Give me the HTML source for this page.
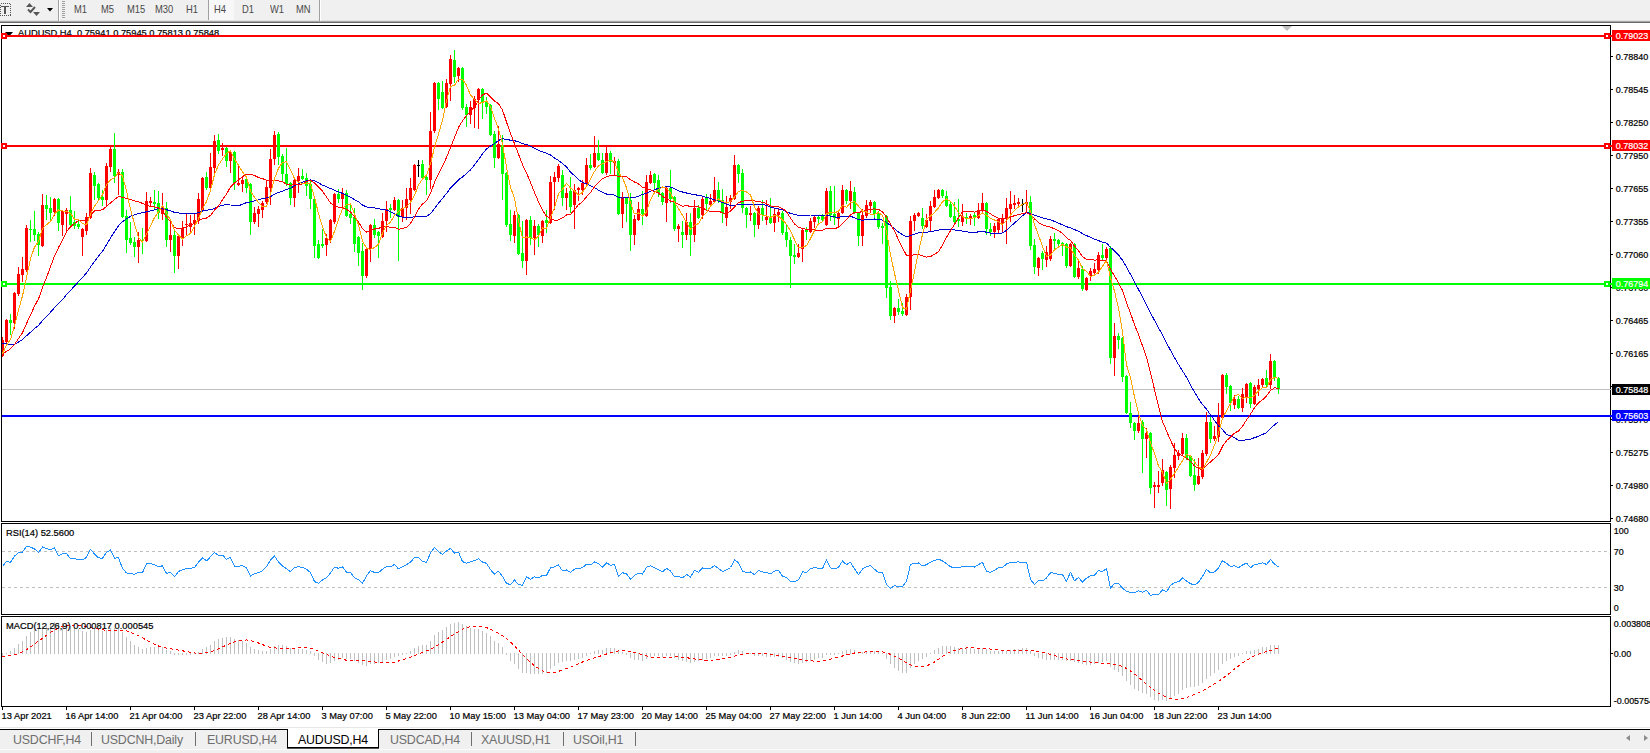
<!DOCTYPE html>
<html><head><meta charset="utf-8"><title>AUDUSD,H4</title>
<style>
html,body{margin:0;padding:0;background:#fff;}
body{width:1650px;height:753px;position:relative;overflow:hidden;font-family:"Liberation Sans",Arial,sans-serif;}
#tb{position:absolute;left:0;top:0;width:1650px;height:21px;background:#f0f0f0;}
#tbl1{position:absolute;left:0;top:20px;width:1650px;height:1px;background:#e2e2e2;}
#tbl2{position:absolute;left:0;top:21px;width:1650px;height:1px;background:#a6a6a6;}
#tbl3{position:absolute;left:0;top:22px;width:1650px;height:1px;background:#6a6a6a;}
.tf{position:absolute;top:3.5px;font-size:10.2px;color:#4a4a4a;line-height:12px;white-space:nowrap;display:inline-block;transform:scaleX(0.92);transform-origin:left center;}
#tabs{position:absolute;left:0;top:730px;width:1650px;height:23px;background:#f0f0f0;}
#tabl0{position:absolute;left:0;top:727px;width:1650px;height:1px;background:#e6e6e6;}
#tabl1{position:absolute;left:0;top:729px;width:1650px;height:1px;background:#000;}
#tabl2{position:absolute;left:0;top:749px;width:1650px;height:1px;background:#fafafa;}
.tab{position:absolute;top:733px;font-size:12.4px;line-height:14px;color:#6e6e6e;white-space:nowrap;letter-spacing:-0.17px;}
.sep{position:absolute;top:732px;width:1px;height:14px;background:#6e6e6e;}
#act{position:absolute;left:287px;top:729px;width:90px;height:18px;background:#fff;border:1px solid #000;border-top:none;box-shadow:0 1px 0 #555;}
</style></head><body>
<svg width="1650" height="753" viewBox="0 0 1650 753" style="position:absolute;left:0;top:0">
<text transform="translate(18,36) scale(0.96,1)" fill="#000" stroke="#000" stroke-width="0.22" font-family="Liberation Sans, Arial, sans-serif" font-size="9.7" >AUDUSD,H4&#160; 0.75941 0.75945 0.75813 0.75848</text>
<polygon points="5,32 13,32 9,36.5" fill="#000"/>
<g shape-rendering="crispEdges">
<rect x="1" y="25" width="1610" height="1" fill="#000"/><rect x="1" y="521" width="1610" height="1" fill="#000"/><rect x="1" y="25" width="1" height="497" fill="#000"/><rect x="1610" y="25" width="1" height="497" fill="#000"/>
<rect x="1" y="523" width="1610" height="1" fill="#000"/><rect x="1" y="614" width="1610" height="1" fill="#000"/><rect x="1" y="523" width="1" height="92" fill="#000"/><rect x="1610" y="523" width="1" height="92" fill="#000"/>
<rect x="1" y="616" width="1610" height="1" fill="#000"/><rect x="1" y="706" width="1610" height="1" fill="#000"/><rect x="1" y="616" width="1" height="91" fill="#000"/><rect x="1610" y="616" width="1" height="91" fill="#000"/>
<rect x="2" y="389" width="1610" height="1" fill="#c0c0c0"/>
<rect x="2" y="35" width="1610" height="2" fill="#ff0000"/>
<rect x="1" y="33" width="6" height="6" fill="#ff0000"/><rect x="3" y="35" width="2" height="2" fill="#fff"/>
<rect x="1604" y="33" width="6" height="6" fill="#ff0000"/><rect x="1606" y="35" width="2" height="2" fill="#fff"/>
<rect x="2" y="145" width="1610" height="2" fill="#ff0000"/>
<rect x="1" y="143" width="6" height="6" fill="#ff0000"/><rect x="3" y="145" width="2" height="2" fill="#fff"/>
<rect x="1604" y="143" width="6" height="6" fill="#ff0000"/><rect x="1606" y="145" width="2" height="2" fill="#fff"/>
<rect x="2" y="283" width="1610" height="2" fill="#00ff00"/>
<rect x="1" y="281" width="6" height="6" fill="#00ff00"/><rect x="3" y="283" width="2" height="2" fill="#fff"/>
<rect x="1604" y="281" width="6" height="6" fill="#00ff00"/><rect x="1606" y="283" width="2" height="2" fill="#fff"/>
<rect x="2" y="415" width="1610" height="2" fill="#0000ff"/>
<rect x="2" y="653" width="1" height="3" fill="#c0c0c0"/>
<rect x="6" y="653" width="1" height="1" fill="#c0c0c0"/>
<rect x="10" y="651" width="1" height="3" fill="#c0c0c0"/>
<rect x="14" y="648" width="1" height="6" fill="#c0c0c0"/>
<rect x="18" y="644" width="1" height="10" fill="#c0c0c0"/>
<rect x="22" y="641" width="1" height="13" fill="#c0c0c0"/>
<rect x="26" y="636" width="1" height="18" fill="#c0c0c0"/>
<rect x="30" y="632" width="1" height="22" fill="#c0c0c0"/>
<rect x="34" y="630" width="1" height="24" fill="#c0c0c0"/>
<rect x="38" y="629" width="1" height="25" fill="#c0c0c0"/>
<rect x="42" y="626" width="1" height="28" fill="#c0c0c0"/>
<rect x="46" y="624" width="1" height="30" fill="#c0c0c0"/>
<rect x="50" y="624" width="1" height="30" fill="#c0c0c0"/>
<rect x="54" y="622" width="1" height="32" fill="#c0c0c0"/>
<rect x="58" y="623" width="1" height="31" fill="#c0c0c0"/>
<rect x="62" y="623" width="1" height="31" fill="#c0c0c0"/>
<rect x="66" y="624" width="1" height="30" fill="#c0c0c0"/>
<rect x="70" y="626" width="1" height="28" fill="#c0c0c0"/>
<rect x="74" y="627" width="1" height="27" fill="#c0c0c0"/>
<rect x="78" y="629" width="1" height="25" fill="#c0c0c0"/>
<rect x="82" y="631" width="1" height="23" fill="#c0c0c0"/>
<rect x="86" y="632" width="1" height="22" fill="#c0c0c0"/>
<rect x="90" y="630" width="1" height="24" fill="#c0c0c0"/>
<rect x="94" y="629" width="1" height="25" fill="#c0c0c0"/>
<rect x="98" y="630" width="1" height="24" fill="#c0c0c0"/>
<rect x="102" y="631" width="1" height="23" fill="#c0c0c0"/>
<rect x="106" y="630" width="1" height="24" fill="#c0c0c0"/>
<rect x="110" y="628" width="1" height="26" fill="#c0c0c0"/>
<rect x="114" y="628" width="1" height="26" fill="#c0c0c0"/>
<rect x="118" y="629" width="1" height="25" fill="#c0c0c0"/>
<rect x="122" y="632" width="1" height="22" fill="#c0c0c0"/>
<rect x="126" y="637" width="1" height="17" fill="#c0c0c0"/>
<rect x="130" y="641" width="1" height="13" fill="#c0c0c0"/>
<rect x="134" y="645" width="1" height="9" fill="#c0c0c0"/>
<rect x="138" y="647" width="1" height="7" fill="#c0c0c0"/>
<rect x="142" y="649" width="1" height="5" fill="#c0c0c0"/>
<rect x="146" y="648" width="1" height="6" fill="#c0c0c0"/>
<rect x="150" y="647" width="1" height="7" fill="#c0c0c0"/>
<rect x="154" y="647" width="1" height="7" fill="#c0c0c0"/>
<rect x="158" y="647" width="1" height="7" fill="#c0c0c0"/>
<rect x="162" y="647" width="1" height="7" fill="#c0c0c0"/>
<rect x="166" y="650" width="1" height="4" fill="#c0c0c0"/>
<rect x="170" y="651" width="1" height="3" fill="#c0c0c0"/>
<rect x="174" y="653" width="1" height="2" fill="#c0c0c0"/>
<rect x="178" y="653" width="1" height="2" fill="#c0c0c0"/>
<rect x="182" y="653" width="1" height="2" fill="#c0c0c0"/>
<rect x="186" y="653" width="1" height="2" fill="#c0c0c0"/>
<rect x="190" y="653" width="1" height="2" fill="#c0c0c0"/>
<rect x="194" y="653" width="1" height="1" fill="#c0c0c0"/>
<rect x="198" y="652" width="1" height="2" fill="#c0c0c0"/>
<rect x="202" y="649" width="1" height="5" fill="#c0c0c0"/>
<rect x="206" y="647" width="1" height="7" fill="#c0c0c0"/>
<rect x="210" y="645" width="1" height="9" fill="#c0c0c0"/>
<rect x="214" y="641" width="1" height="13" fill="#c0c0c0"/>
<rect x="218" y="639" width="1" height="15" fill="#c0c0c0"/>
<rect x="222" y="638" width="1" height="16" fill="#c0c0c0"/>
<rect x="226" y="637" width="1" height="17" fill="#c0c0c0"/>
<rect x="230" y="637" width="1" height="17" fill="#c0c0c0"/>
<rect x="234" y="639" width="1" height="15" fill="#c0c0c0"/>
<rect x="238" y="640" width="1" height="14" fill="#c0c0c0"/>
<rect x="242" y="641" width="1" height="13" fill="#c0c0c0"/>
<rect x="246" y="643" width="1" height="11" fill="#c0c0c0"/>
<rect x="250" y="647" width="1" height="7" fill="#c0c0c0"/>
<rect x="254" y="649" width="1" height="5" fill="#c0c0c0"/>
<rect x="258" y="650" width="1" height="4" fill="#c0c0c0"/>
<rect x="262" y="651" width="1" height="3" fill="#c0c0c0"/>
<rect x="266" y="651" width="1" height="3" fill="#c0c0c0"/>
<rect x="270" y="649" width="1" height="5" fill="#c0c0c0"/>
<rect x="274" y="646" width="1" height="8" fill="#c0c0c0"/>
<rect x="278" y="645" width="1" height="9" fill="#c0c0c0"/>
<rect x="282" y="645" width="1" height="9" fill="#c0c0c0"/>
<rect x="286" y="646" width="1" height="8" fill="#c0c0c0"/>
<rect x="290" y="648" width="1" height="6" fill="#c0c0c0"/>
<rect x="294" y="648" width="1" height="6" fill="#c0c0c0"/>
<rect x="298" y="649" width="1" height="5" fill="#c0c0c0"/>
<rect x="302" y="649" width="1" height="5" fill="#c0c0c0"/>
<rect x="306" y="650" width="1" height="4" fill="#c0c0c0"/>
<rect x="310" y="651" width="1" height="3" fill="#c0c0c0"/>
<rect x="314" y="653" width="1" height="3" fill="#c0c0c0"/>
<rect x="318" y="653" width="1" height="7" fill="#c0c0c0"/>
<rect x="322" y="653" width="1" height="9" fill="#c0c0c0"/>
<rect x="326" y="653" width="1" height="11" fill="#c0c0c0"/>
<rect x="330" y="653" width="1" height="10" fill="#c0c0c0"/>
<rect x="334" y="653" width="1" height="8" fill="#c0c0c0"/>
<rect x="338" y="653" width="1" height="7" fill="#c0c0c0"/>
<rect x="342" y="653" width="1" height="5" fill="#c0c0c0"/>
<rect x="346" y="653" width="1" height="6" fill="#c0c0c0"/>
<rect x="350" y="653" width="1" height="6" fill="#c0c0c0"/>
<rect x="354" y="653" width="1" height="8" fill="#c0c0c0"/>
<rect x="358" y="653" width="1" height="10" fill="#c0c0c0"/>
<rect x="362" y="653" width="1" height="12" fill="#c0c0c0"/>
<rect x="366" y="653" width="1" height="13" fill="#c0c0c0"/>
<rect x="370" y="653" width="1" height="11" fill="#c0c0c0"/>
<rect x="374" y="653" width="1" height="11" fill="#c0c0c0"/>
<rect x="378" y="653" width="1" height="10" fill="#c0c0c0"/>
<rect x="382" y="653" width="1" height="9" fill="#c0c0c0"/>
<rect x="386" y="653" width="1" height="7" fill="#c0c0c0"/>
<rect x="390" y="653" width="1" height="6" fill="#c0c0c0"/>
<rect x="394" y="653" width="1" height="4" fill="#c0c0c0"/>
<rect x="398" y="653" width="1" height="3" fill="#c0c0c0"/>
<rect x="402" y="653" width="1" height="2" fill="#c0c0c0"/>
<rect x="406" y="653" width="1" height="1" fill="#c0c0c0"/>
<rect x="410" y="651" width="1" height="3" fill="#c0c0c0"/>
<rect x="414" y="648" width="1" height="6" fill="#c0c0c0"/>
<rect x="418" y="646" width="1" height="8" fill="#c0c0c0"/>
<rect x="422" y="645" width="1" height="9" fill="#c0c0c0"/>
<rect x="426" y="645" width="1" height="9" fill="#c0c0c0"/>
<rect x="430" y="641" width="1" height="13" fill="#c0c0c0"/>
<rect x="434" y="635" width="1" height="19" fill="#c0c0c0"/>
<rect x="438" y="632" width="1" height="22" fill="#c0c0c0"/>
<rect x="442" y="630" width="1" height="24" fill="#c0c0c0"/>
<rect x="446" y="627" width="1" height="27" fill="#c0c0c0"/>
<rect x="450" y="624" width="1" height="30" fill="#c0c0c0"/>
<rect x="454" y="623" width="1" height="31" fill="#c0c0c0"/>
<rect x="458" y="622" width="1" height="32" fill="#c0c0c0"/>
<rect x="462" y="624" width="1" height="30" fill="#c0c0c0"/>
<rect x="466" y="626" width="1" height="28" fill="#c0c0c0"/>
<rect x="470" y="628" width="1" height="26" fill="#c0c0c0"/>
<rect x="474" y="629" width="1" height="25" fill="#c0c0c0"/>
<rect x="478" y="629" width="1" height="25" fill="#c0c0c0"/>
<rect x="482" y="631" width="1" height="23" fill="#c0c0c0"/>
<rect x="486" y="633" width="1" height="21" fill="#c0c0c0"/>
<rect x="490" y="636" width="1" height="18" fill="#c0c0c0"/>
<rect x="494" y="641" width="1" height="13" fill="#c0c0c0"/>
<rect x="498" y="643" width="1" height="11" fill="#c0c0c0"/>
<rect x="502" y="647" width="1" height="7" fill="#c0c0c0"/>
<rect x="506" y="653" width="1" height="2" fill="#c0c0c0"/>
<rect x="510" y="653" width="1" height="8" fill="#c0c0c0"/>
<rect x="514" y="653" width="1" height="11" fill="#c0c0c0"/>
<rect x="518" y="653" width="1" height="16" fill="#c0c0c0"/>
<rect x="522" y="653" width="1" height="20" fill="#c0c0c0"/>
<rect x="526" y="653" width="1" height="20" fill="#c0c0c0"/>
<rect x="530" y="653" width="1" height="21" fill="#c0c0c0"/>
<rect x="534" y="653" width="1" height="21" fill="#c0c0c0"/>
<rect x="538" y="653" width="1" height="21" fill="#c0c0c0"/>
<rect x="542" y="653" width="1" height="21" fill="#c0c0c0"/>
<rect x="546" y="653" width="1" height="20" fill="#c0c0c0"/>
<rect x="550" y="653" width="1" height="16" fill="#c0c0c0"/>
<rect x="554" y="653" width="1" height="13" fill="#c0c0c0"/>
<rect x="558" y="653" width="1" height="10" fill="#c0c0c0"/>
<rect x="562" y="653" width="1" height="9" fill="#c0c0c0"/>
<rect x="566" y="653" width="1" height="8" fill="#c0c0c0"/>
<rect x="570" y="653" width="1" height="8" fill="#c0c0c0"/>
<rect x="574" y="653" width="1" height="7" fill="#c0c0c0"/>
<rect x="578" y="653" width="1" height="6" fill="#c0c0c0"/>
<rect x="582" y="653" width="1" height="5" fill="#c0c0c0"/>
<rect x="586" y="653" width="1" height="3" fill="#c0c0c0"/>
<rect x="590" y="653" width="1" height="1" fill="#c0c0c0"/>
<rect x="594" y="651" width="1" height="3" fill="#c0c0c0"/>
<rect x="598" y="650" width="1" height="4" fill="#c0c0c0"/>
<rect x="602" y="650" width="1" height="4" fill="#c0c0c0"/>
<rect x="606" y="648" width="1" height="6" fill="#c0c0c0"/>
<rect x="610" y="648" width="1" height="6" fill="#c0c0c0"/>
<rect x="614" y="648" width="1" height="6" fill="#c0c0c0"/>
<rect x="618" y="651" width="1" height="3" fill="#c0c0c0"/>
<rect x="622" y="652" width="1" height="2" fill="#c0c0c0"/>
<rect x="626" y="653" width="1" height="2" fill="#c0c0c0"/>
<rect x="630" y="653" width="1" height="5" fill="#c0c0c0"/>
<rect x="634" y="653" width="1" height="7" fill="#c0c0c0"/>
<rect x="638" y="653" width="1" height="7" fill="#c0c0c0"/>
<rect x="642" y="653" width="1" height="8" fill="#c0c0c0"/>
<rect x="646" y="653" width="1" height="6" fill="#c0c0c0"/>
<rect x="650" y="653" width="1" height="4" fill="#c0c0c0"/>
<rect x="654" y="653" width="1" height="3" fill="#c0c0c0"/>
<rect x="658" y="653" width="1" height="3" fill="#c0c0c0"/>
<rect x="662" y="653" width="1" height="4" fill="#c0c0c0"/>
<rect x="666" y="653" width="1" height="3" fill="#c0c0c0"/>
<rect x="670" y="653" width="1" height="3" fill="#c0c0c0"/>
<rect x="674" y="653" width="1" height="5" fill="#c0c0c0"/>
<rect x="678" y="653" width="1" height="7" fill="#c0c0c0"/>
<rect x="682" y="653" width="1" height="8" fill="#c0c0c0"/>
<rect x="686" y="653" width="1" height="9" fill="#c0c0c0"/>
<rect x="690" y="653" width="1" height="10" fill="#c0c0c0"/>
<rect x="694" y="653" width="1" height="9" fill="#c0c0c0"/>
<rect x="698" y="653" width="1" height="8" fill="#c0c0c0"/>
<rect x="702" y="653" width="1" height="7" fill="#c0c0c0"/>
<rect x="706" y="653" width="1" height="6" fill="#c0c0c0"/>
<rect x="710" y="653" width="1" height="5" fill="#c0c0c0"/>
<rect x="714" y="653" width="1" height="3" fill="#c0c0c0"/>
<rect x="718" y="653" width="1" height="3" fill="#c0c0c0"/>
<rect x="722" y="653" width="1" height="3" fill="#c0c0c0"/>
<rect x="726" y="653" width="1" height="3" fill="#c0c0c0"/>
<rect x="730" y="653" width="1" height="2" fill="#c0c0c0"/>
<rect x="734" y="652" width="1" height="2" fill="#c0c0c0"/>
<rect x="738" y="650" width="1" height="4" fill="#c0c0c0"/>
<rect x="742" y="651" width="1" height="3" fill="#c0c0c0"/>
<rect x="746" y="653" width="1" height="1" fill="#c0c0c0"/>
<rect x="750" y="653" width="1" height="1" fill="#c0c0c0"/>
<rect x="754" y="653" width="1" height="3" fill="#c0c0c0"/>
<rect x="758" y="653" width="1" height="3" fill="#c0c0c0"/>
<rect x="762" y="653" width="1" height="3" fill="#c0c0c0"/>
<rect x="766" y="653" width="1" height="4" fill="#c0c0c0"/>
<rect x="770" y="653" width="1" height="4" fill="#c0c0c0"/>
<rect x="774" y="653" width="1" height="4" fill="#c0c0c0"/>
<rect x="778" y="653" width="1" height="4" fill="#c0c0c0"/>
<rect x="782" y="653" width="1" height="5" fill="#c0c0c0"/>
<rect x="786" y="653" width="1" height="7" fill="#c0c0c0"/>
<rect x="790" y="653" width="1" height="9" fill="#c0c0c0"/>
<rect x="794" y="653" width="1" height="10" fill="#c0c0c0"/>
<rect x="798" y="653" width="1" height="11" fill="#c0c0c0"/>
<rect x="802" y="653" width="1" height="10" fill="#c0c0c0"/>
<rect x="806" y="653" width="1" height="9" fill="#c0c0c0"/>
<rect x="810" y="653" width="1" height="8" fill="#c0c0c0"/>
<rect x="814" y="653" width="1" height="7" fill="#c0c0c0"/>
<rect x="818" y="653" width="1" height="5" fill="#c0c0c0"/>
<rect x="822" y="653" width="1" height="5" fill="#c0c0c0"/>
<rect x="826" y="653" width="1" height="2" fill="#c0c0c0"/>
<rect x="830" y="653" width="1" height="2" fill="#c0c0c0"/>
<rect x="834" y="653" width="1" height="2" fill="#c0c0c0"/>
<rect x="838" y="653" width="1" height="1" fill="#c0c0c0"/>
<rect x="842" y="651" width="1" height="3" fill="#c0c0c0"/>
<rect x="846" y="650" width="1" height="4" fill="#c0c0c0"/>
<rect x="850" y="649" width="1" height="5" fill="#c0c0c0"/>
<rect x="854" y="650" width="1" height="4" fill="#c0c0c0"/>
<rect x="858" y="652" width="1" height="2" fill="#c0c0c0"/>
<rect x="862" y="652" width="1" height="2" fill="#c0c0c0"/>
<rect x="866" y="651" width="1" height="3" fill="#c0c0c0"/>
<rect x="870" y="651" width="1" height="3" fill="#c0c0c0"/>
<rect x="874" y="651" width="1" height="3" fill="#c0c0c0"/>
<rect x="878" y="652" width="1" height="2" fill="#c0c0c0"/>
<rect x="882" y="653" width="1" height="1" fill="#c0c0c0"/>
<rect x="886" y="653" width="1" height="6" fill="#c0c0c0"/>
<rect x="890" y="653" width="1" height="11" fill="#c0c0c0"/>
<rect x="894" y="653" width="1" height="15" fill="#c0c0c0"/>
<rect x="898" y="653" width="1" height="18" fill="#c0c0c0"/>
<rect x="902" y="653" width="1" height="20" fill="#c0c0c0"/>
<rect x="906" y="653" width="1" height="20" fill="#c0c0c0"/>
<rect x="910" y="653" width="1" height="15" fill="#c0c0c0"/>
<rect x="914" y="653" width="1" height="11" fill="#c0c0c0"/>
<rect x="918" y="653" width="1" height="8" fill="#c0c0c0"/>
<rect x="922" y="653" width="1" height="6" fill="#c0c0c0"/>
<rect x="926" y="653" width="1" height="4" fill="#c0c0c0"/>
<rect x="930" y="653" width="1" height="1" fill="#c0c0c0"/>
<rect x="934" y="650" width="1" height="4" fill="#c0c0c0"/>
<rect x="938" y="648" width="1" height="6" fill="#c0c0c0"/>
<rect x="942" y="646" width="1" height="8" fill="#c0c0c0"/>
<rect x="946" y="646" width="1" height="8" fill="#c0c0c0"/>
<rect x="950" y="646" width="1" height="8" fill="#c0c0c0"/>
<rect x="954" y="647" width="1" height="7" fill="#c0c0c0"/>
<rect x="958" y="648" width="1" height="6" fill="#c0c0c0"/>
<rect x="962" y="648" width="1" height="6" fill="#c0c0c0"/>
<rect x="966" y="648" width="1" height="6" fill="#c0c0c0"/>
<rect x="970" y="648" width="1" height="6" fill="#c0c0c0"/>
<rect x="974" y="649" width="1" height="5" fill="#c0c0c0"/>
<rect x="978" y="649" width="1" height="5" fill="#c0c0c0"/>
<rect x="982" y="648" width="1" height="6" fill="#c0c0c0"/>
<rect x="986" y="649" width="1" height="5" fill="#c0c0c0"/>
<rect x="990" y="651" width="1" height="3" fill="#c0c0c0"/>
<rect x="994" y="651" width="1" height="3" fill="#c0c0c0"/>
<rect x="998" y="651" width="1" height="3" fill="#c0c0c0"/>
<rect x="1002" y="651" width="1" height="3" fill="#c0c0c0"/>
<rect x="1006" y="651" width="1" height="3" fill="#c0c0c0"/>
<rect x="1010" y="650" width="1" height="4" fill="#c0c0c0"/>
<rect x="1014" y="649" width="1" height="5" fill="#c0c0c0"/>
<rect x="1018" y="649" width="1" height="5" fill="#c0c0c0"/>
<rect x="1022" y="648" width="1" height="6" fill="#c0c0c0"/>
<rect x="1026" y="648" width="1" height="6" fill="#c0c0c0"/>
<rect x="1030" y="651" width="1" height="3" fill="#c0c0c0"/>
<rect x="1034" y="653" width="1" height="3" fill="#c0c0c0"/>
<rect x="1038" y="653" width="1" height="5" fill="#c0c0c0"/>
<rect x="1042" y="653" width="1" height="6" fill="#c0c0c0"/>
<rect x="1046" y="653" width="1" height="7" fill="#c0c0c0"/>
<rect x="1050" y="653" width="1" height="7" fill="#c0c0c0"/>
<rect x="1054" y="653" width="1" height="7" fill="#c0c0c0"/>
<rect x="1058" y="653" width="1" height="7" fill="#c0c0c0"/>
<rect x="1062" y="653" width="1" height="7" fill="#c0c0c0"/>
<rect x="1066" y="653" width="1" height="8" fill="#c0c0c0"/>
<rect x="1070" y="653" width="1" height="8" fill="#c0c0c0"/>
<rect x="1074" y="653" width="1" height="9" fill="#c0c0c0"/>
<rect x="1078" y="653" width="1" height="10" fill="#c0c0c0"/>
<rect x="1082" y="653" width="1" height="11" fill="#c0c0c0"/>
<rect x="1086" y="653" width="1" height="12" fill="#c0c0c0"/>
<rect x="1090" y="653" width="1" height="12" fill="#c0c0c0"/>
<rect x="1094" y="653" width="1" height="11" fill="#c0c0c0"/>
<rect x="1098" y="653" width="1" height="10" fill="#c0c0c0"/>
<rect x="1102" y="653" width="1" height="9" fill="#c0c0c0"/>
<rect x="1106" y="653" width="1" height="8" fill="#c0c0c0"/>
<rect x="1110" y="653" width="1" height="14" fill="#c0c0c0"/>
<rect x="1114" y="653" width="1" height="17" fill="#c0c0c0"/>
<rect x="1118" y="653" width="1" height="19" fill="#c0c0c0"/>
<rect x="1122" y="653" width="1" height="23" fill="#c0c0c0"/>
<rect x="1126" y="653" width="1" height="28" fill="#c0c0c0"/>
<rect x="1130" y="653" width="1" height="32" fill="#c0c0c0"/>
<rect x="1134" y="653" width="1" height="36" fill="#c0c0c0"/>
<rect x="1138" y="653" width="1" height="38" fill="#c0c0c0"/>
<rect x="1142" y="653" width="1" height="40" fill="#c0c0c0"/>
<rect x="1146" y="653" width="1" height="41" fill="#c0c0c0"/>
<rect x="1150" y="653" width="1" height="44" fill="#c0c0c0"/>
<rect x="1154" y="653" width="1" height="47" fill="#c0c0c0"/>
<rect x="1158" y="653" width="1" height="48" fill="#c0c0c0"/>
<rect x="1162" y="653" width="1" height="47" fill="#c0c0c0"/>
<rect x="1166" y="653" width="1" height="48" fill="#c0c0c0"/>
<rect x="1170" y="653" width="1" height="46" fill="#c0c0c0"/>
<rect x="1174" y="653" width="1" height="43" fill="#c0c0c0"/>
<rect x="1178" y="653" width="1" height="41" fill="#c0c0c0"/>
<rect x="1182" y="653" width="1" height="37" fill="#c0c0c0"/>
<rect x="1186" y="653" width="1" height="35" fill="#c0c0c0"/>
<rect x="1190" y="653" width="1" height="34" fill="#c0c0c0"/>
<rect x="1194" y="653" width="1" height="34" fill="#c0c0c0"/>
<rect x="1198" y="653" width="1" height="33" fill="#c0c0c0"/>
<rect x="1202" y="653" width="1" height="30" fill="#c0c0c0"/>
<rect x="1206" y="653" width="1" height="26" fill="#c0c0c0"/>
<rect x="1210" y="653" width="1" height="23" fill="#c0c0c0"/>
<rect x="1214" y="653" width="1" height="20" fill="#c0c0c0"/>
<rect x="1218" y="653" width="1" height="17" fill="#c0c0c0"/>
<rect x="1222" y="653" width="1" height="11" fill="#c0c0c0"/>
<rect x="1226" y="653" width="1" height="8" fill="#c0c0c0"/>
<rect x="1230" y="653" width="1" height="6" fill="#c0c0c0"/>
<rect x="1234" y="653" width="1" height="4" fill="#c0c0c0"/>
<rect x="1238" y="653" width="1" height="3" fill="#c0c0c0"/>
<rect x="1242" y="653" width="1" height="1" fill="#c0c0c0"/>
<rect x="1246" y="651" width="1" height="3" fill="#c0c0c0"/>
<rect x="1250" y="651" width="1" height="3" fill="#c0c0c0"/>
<rect x="1254" y="650" width="1" height="4" fill="#c0c0c0"/>
<rect x="1258" y="649" width="1" height="5" fill="#c0c0c0"/>
<rect x="1262" y="647" width="1" height="7" fill="#c0c0c0"/>
<rect x="1266" y="647" width="1" height="7" fill="#c0c0c0"/>
<rect x="1270" y="645" width="1" height="9" fill="#c0c0c0"/>
<rect x="1274" y="645" width="1" height="9" fill="#c0c0c0"/>
<rect x="1278" y="645" width="1" height="9" fill="#c0c0c0"/>
<rect x="2" y="337" width="1" height="20" fill="#ff0000"/>
<rect x="2" y="340" width="2" height="16" fill="#ff0000"/>
<rect x="6" y="319" width="1" height="24" fill="#ff0000"/>
<rect x="5" y="320" width="3" height="22" fill="#ff0000"/>
<rect x="10" y="314" width="1" height="21" fill="#00ff00"/>
<rect x="9" y="320" width="3" height="3" fill="#00ff00"/>
<rect x="14" y="292" width="1" height="37" fill="#ff0000"/>
<rect x="13" y="293" width="3" height="30" fill="#ff0000"/>
<rect x="18" y="267" width="1" height="29" fill="#ff0000"/>
<rect x="17" y="274" width="3" height="20" fill="#ff0000"/>
<rect x="22" y="257" width="1" height="25" fill="#ff0000"/>
<rect x="21" y="269" width="3" height="6" fill="#ff0000"/>
<rect x="26" y="225" width="1" height="47" fill="#ff0000"/>
<rect x="25" y="228" width="3" height="42" fill="#ff0000"/>
<rect x="30" y="220" width="1" height="22" fill="#00ff00"/>
<rect x="29" y="229" width="3" height="1" fill="#00ff00"/>
<rect x="34" y="211" width="1" height="30" fill="#00ff00"/>
<rect x="33" y="229" width="3" height="6" fill="#00ff00"/>
<rect x="38" y="232" width="1" height="24" fill="#00ff00"/>
<rect x="37" y="234" width="3" height="11" fill="#00ff00"/>
<rect x="42" y="194" width="1" height="53" fill="#ff0000"/>
<rect x="41" y="205" width="3" height="41" fill="#ff0000"/>
<rect x="46" y="195" width="1" height="25" fill="#00ff00"/>
<rect x="45" y="205" width="3" height="4" fill="#00ff00"/>
<rect x="50" y="197" width="1" height="23" fill="#00ff00"/>
<rect x="49" y="208" width="3" height="5" fill="#00ff00"/>
<rect x="54" y="198" width="1" height="18" fill="#ff0000"/>
<rect x="53" y="199" width="3" height="13" fill="#ff0000"/>
<rect x="58" y="198" width="1" height="33" fill="#00ff00"/>
<rect x="57" y="199" width="3" height="24" fill="#00ff00"/>
<rect x="62" y="210" width="1" height="26" fill="#ff0000"/>
<rect x="61" y="211" width="3" height="14" fill="#ff0000"/>
<rect x="66" y="208" width="1" height="24" fill="#ff0000"/>
<rect x="65" y="210" width="3" height="4" fill="#ff0000"/>
<rect x="70" y="196" width="1" height="32" fill="#00ff00"/>
<rect x="69" y="210" width="3" height="15" fill="#00ff00"/>
<rect x="74" y="211" width="1" height="18" fill="#00ff00"/>
<rect x="73" y="222" width="3" height="4" fill="#00ff00"/>
<rect x="78" y="220" width="1" height="9" fill="#00ff00"/>
<rect x="77" y="224" width="3" height="3" fill="#00ff00"/>
<rect x="82" y="228" width="1" height="28" fill="#ff0000"/>
<rect x="81" y="229" width="3" height="8" fill="#ff0000"/>
<rect x="86" y="213" width="1" height="22" fill="#ff0000"/>
<rect x="85" y="217" width="3" height="14" fill="#ff0000"/>
<rect x="90" y="168" width="1" height="51" fill="#ff0000"/>
<rect x="89" y="173" width="3" height="45" fill="#ff0000"/>
<rect x="94" y="172" width="1" height="28" fill="#00ff00"/>
<rect x="93" y="175" width="3" height="11" fill="#00ff00"/>
<rect x="98" y="183" width="1" height="17" fill="#00ff00"/>
<rect x="97" y="184" width="3" height="14" fill="#00ff00"/>
<rect x="102" y="190" width="1" height="16" fill="#00ff00"/>
<rect x="101" y="197" width="3" height="3" fill="#00ff00"/>
<rect x="106" y="163" width="1" height="43" fill="#ff0000"/>
<rect x="105" y="166" width="3" height="34" fill="#ff0000"/>
<rect x="110" y="146" width="1" height="26" fill="#ff0000"/>
<rect x="109" y="149" width="3" height="18" fill="#ff0000"/>
<rect x="114" y="133" width="1" height="50" fill="#00ff00"/>
<rect x="113" y="149" width="3" height="27" fill="#00ff00"/>
<rect x="118" y="169" width="1" height="26" fill="#ff0000"/>
<rect x="117" y="172" width="3" height="3" fill="#ff0000"/>
<rect x="122" y="169" width="1" height="49" fill="#00ff00"/>
<rect x="121" y="172" width="3" height="45" fill="#00ff00"/>
<rect x="126" y="210" width="1" height="43" fill="#00ff00"/>
<rect x="125" y="216" width="3" height="24" fill="#00ff00"/>
<rect x="130" y="222" width="1" height="23" fill="#00ff00"/>
<rect x="129" y="238" width="3" height="5" fill="#00ff00"/>
<rect x="134" y="237" width="1" height="20" fill="#00ff00"/>
<rect x="133" y="242" width="3" height="5" fill="#00ff00"/>
<rect x="138" y="232" width="1" height="31" fill="#ff0000"/>
<rect x="137" y="240" width="3" height="7" fill="#ff0000"/>
<rect x="142" y="228" width="1" height="26" fill="#00ff00"/>
<rect x="141" y="240" width="3" height="1" fill="#00ff00"/>
<rect x="146" y="192" width="1" height="50" fill="#ff0000"/>
<rect x="145" y="201" width="3" height="40" fill="#ff0000"/>
<rect x="150" y="197" width="1" height="9" fill="#ff0000"/>
<rect x="149" y="201" width="3" height="2" fill="#ff0000"/>
<rect x="154" y="190" width="1" height="19" fill="#00ff00"/>
<rect x="153" y="202" width="3" height="2" fill="#00ff00"/>
<rect x="158" y="191" width="1" height="28" fill="#00ff00"/>
<rect x="157" y="203" width="3" height="10" fill="#00ff00"/>
<rect x="162" y="193" width="1" height="27" fill="#ff0000"/>
<rect x="161" y="208" width="3" height="6" fill="#ff0000"/>
<rect x="166" y="202" width="1" height="45" fill="#00ff00"/>
<rect x="165" y="208" width="3" height="32" fill="#00ff00"/>
<rect x="170" y="223" width="1" height="29" fill="#ff0000"/>
<rect x="169" y="235" width="3" height="5" fill="#ff0000"/>
<rect x="174" y="229" width="1" height="44" fill="#00ff00"/>
<rect x="173" y="235" width="3" height="21" fill="#00ff00"/>
<rect x="178" y="234" width="1" height="35" fill="#ff0000"/>
<rect x="177" y="236" width="3" height="20" fill="#ff0000"/>
<rect x="182" y="221" width="1" height="25" fill="#ff0000"/>
<rect x="181" y="228" width="3" height="11" fill="#ff0000"/>
<rect x="186" y="214" width="1" height="22" fill="#ff0000"/>
<rect x="185" y="224" width="3" height="1" fill="#ff0000"/>
<rect x="190" y="215" width="1" height="17" fill="#ff0000"/>
<rect x="189" y="223" width="3" height="4" fill="#ff0000"/>
<rect x="194" y="213" width="1" height="22" fill="#ff0000"/>
<rect x="193" y="220" width="3" height="4" fill="#ff0000"/>
<rect x="198" y="193" width="1" height="31" fill="#ff0000"/>
<rect x="197" y="199" width="3" height="21" fill="#ff0000"/>
<rect x="202" y="177" width="1" height="35" fill="#ff0000"/>
<rect x="201" y="178" width="3" height="33" fill="#ff0000"/>
<rect x="206" y="172" width="1" height="18" fill="#00ff00"/>
<rect x="205" y="177" width="3" height="11" fill="#00ff00"/>
<rect x="210" y="153" width="1" height="36" fill="#ff0000"/>
<rect x="209" y="167" width="3" height="21" fill="#ff0000"/>
<rect x="214" y="135" width="1" height="38" fill="#ff0000"/>
<rect x="213" y="141" width="3" height="27" fill="#ff0000"/>
<rect x="218" y="134" width="1" height="20" fill="#00ff00"/>
<rect x="217" y="140" width="3" height="11" fill="#00ff00"/>
<rect x="222" y="143" width="1" height="13" fill="#ff0000"/>
<rect x="221" y="148" width="3" height="2" fill="#ff0000"/>
<rect x="226" y="147" width="1" height="20" fill="#00ff00"/>
<rect x="225" y="148" width="3" height="13" fill="#00ff00"/>
<rect x="230" y="150" width="1" height="23" fill="#ff0000"/>
<rect x="229" y="152" width="3" height="9" fill="#ff0000"/>
<rect x="234" y="151" width="1" height="39" fill="#00ff00"/>
<rect x="233" y="152" width="3" height="31" fill="#00ff00"/>
<rect x="238" y="165" width="1" height="21" fill="#ff0000"/>
<rect x="237" y="183" width="3" height="2" fill="#ff0000"/>
<rect x="242" y="176" width="1" height="16" fill="#ff0000"/>
<rect x="241" y="180" width="3" height="4" fill="#ff0000"/>
<rect x="246" y="178" width="1" height="15" fill="#00ff00"/>
<rect x="245" y="179" width="3" height="9" fill="#00ff00"/>
<rect x="250" y="183" width="1" height="52" fill="#00ff00"/>
<rect x="249" y="184" width="3" height="38" fill="#00ff00"/>
<rect x="254" y="207" width="1" height="17" fill="#ff0000"/>
<rect x="253" y="213" width="3" height="9" fill="#ff0000"/>
<rect x="258" y="206" width="1" height="21" fill="#ff0000"/>
<rect x="257" y="209" width="3" height="5" fill="#ff0000"/>
<rect x="262" y="201" width="1" height="17" fill="#ff0000"/>
<rect x="261" y="203" width="3" height="7" fill="#ff0000"/>
<rect x="266" y="180" width="1" height="24" fill="#ff0000"/>
<rect x="265" y="187" width="3" height="15" fill="#ff0000"/>
<rect x="270" y="149" width="1" height="56" fill="#ff0000"/>
<rect x="269" y="159" width="3" height="29" fill="#ff0000"/>
<rect x="274" y="131" width="1" height="34" fill="#ff0000"/>
<rect x="273" y="135" width="3" height="24" fill="#ff0000"/>
<rect x="278" y="132" width="1" height="33" fill="#00ff00"/>
<rect x="277" y="134" width="3" height="23" fill="#00ff00"/>
<rect x="282" y="154" width="1" height="27" fill="#00ff00"/>
<rect x="281" y="156" width="3" height="18" fill="#00ff00"/>
<rect x="286" y="148" width="1" height="38" fill="#00ff00"/>
<rect x="285" y="174" width="3" height="10" fill="#00ff00"/>
<rect x="290" y="182" width="1" height="23" fill="#00ff00"/>
<rect x="289" y="183" width="3" height="15" fill="#00ff00"/>
<rect x="294" y="179" width="1" height="28" fill="#ff0000"/>
<rect x="293" y="180" width="3" height="18" fill="#ff0000"/>
<rect x="298" y="168" width="1" height="25" fill="#ff0000"/>
<rect x="297" y="176" width="3" height="5" fill="#ff0000"/>
<rect x="302" y="169" width="1" height="11" fill="#00ff00"/>
<rect x="301" y="176" width="3" height="3" fill="#00ff00"/>
<rect x="306" y="173" width="1" height="23" fill="#00ff00"/>
<rect x="305" y="178" width="3" height="8" fill="#00ff00"/>
<rect x="310" y="180" width="1" height="29" fill="#00ff00"/>
<rect x="309" y="184" width="3" height="15" fill="#00ff00"/>
<rect x="314" y="198" width="1" height="60" fill="#00ff00"/>
<rect x="313" y="199" width="3" height="47" fill="#00ff00"/>
<rect x="318" y="240" width="1" height="19" fill="#00ff00"/>
<rect x="317" y="244" width="3" height="14" fill="#00ff00"/>
<rect x="322" y="229" width="1" height="19" fill="#00ff00"/>
<rect x="321" y="244" width="3" height="2" fill="#00ff00"/>
<rect x="326" y="234" width="1" height="22" fill="#ff0000"/>
<rect x="325" y="238" width="3" height="7" fill="#ff0000"/>
<rect x="330" y="219" width="1" height="24" fill="#ff0000"/>
<rect x="329" y="220" width="3" height="20" fill="#ff0000"/>
<rect x="334" y="193" width="1" height="31" fill="#ff0000"/>
<rect x="333" y="194" width="3" height="28" fill="#ff0000"/>
<rect x="338" y="189" width="1" height="14" fill="#00ff00"/>
<rect x="337" y="194" width="3" height="5" fill="#00ff00"/>
<rect x="342" y="188" width="1" height="19" fill="#ff0000"/>
<rect x="341" y="193" width="3" height="6" fill="#ff0000"/>
<rect x="346" y="190" width="1" height="27" fill="#00ff00"/>
<rect x="345" y="193" width="3" height="23" fill="#00ff00"/>
<rect x="350" y="204" width="1" height="20" fill="#00ff00"/>
<rect x="349" y="214" width="3" height="4" fill="#00ff00"/>
<rect x="354" y="208" width="1" height="44" fill="#00ff00"/>
<rect x="353" y="217" width="3" height="27" fill="#00ff00"/>
<rect x="358" y="236" width="1" height="30" fill="#00ff00"/>
<rect x="357" y="237" width="3" height="16" fill="#00ff00"/>
<rect x="362" y="243" width="1" height="47" fill="#00ff00"/>
<rect x="361" y="251" width="3" height="25" fill="#00ff00"/>
<rect x="366" y="248" width="1" height="30" fill="#ff0000"/>
<rect x="365" y="249" width="3" height="27" fill="#ff0000"/>
<rect x="370" y="224" width="1" height="38" fill="#ff0000"/>
<rect x="369" y="225" width="3" height="24" fill="#ff0000"/>
<rect x="374" y="219" width="1" height="19" fill="#00ff00"/>
<rect x="373" y="225" width="3" height="10" fill="#00ff00"/>
<rect x="378" y="231" width="1" height="27" fill="#00ff00"/>
<rect x="377" y="232" width="3" height="4" fill="#00ff00"/>
<rect x="382" y="213" width="1" height="25" fill="#ff0000"/>
<rect x="381" y="221" width="3" height="16" fill="#ff0000"/>
<rect x="386" y="201" width="1" height="31" fill="#ff0000"/>
<rect x="385" y="209" width="3" height="12" fill="#ff0000"/>
<rect x="390" y="204" width="1" height="14" fill="#00ff00"/>
<rect x="389" y="208" width="3" height="2" fill="#00ff00"/>
<rect x="394" y="197" width="1" height="14" fill="#ff0000"/>
<rect x="393" y="200" width="3" height="10" fill="#ff0000"/>
<rect x="398" y="199" width="1" height="62" fill="#00ff00"/>
<rect x="397" y="200" width="3" height="17" fill="#00ff00"/>
<rect x="402" y="200" width="1" height="22" fill="#ff0000"/>
<rect x="401" y="208" width="3" height="9" fill="#ff0000"/>
<rect x="406" y="188" width="1" height="32" fill="#ff0000"/>
<rect x="405" y="199" width="3" height="9" fill="#ff0000"/>
<rect x="410" y="178" width="1" height="36" fill="#ff0000"/>
<rect x="409" y="188" width="3" height="12" fill="#ff0000"/>
<rect x="414" y="164" width="1" height="27" fill="#ff0000"/>
<rect x="413" y="165" width="3" height="25" fill="#ff0000"/>
<rect x="418" y="160" width="1" height="17" fill="#000000"/>
<rect x="417" y="165" width="3" height="1" fill="#000000"/>
<rect x="422" y="160" width="1" height="19" fill="#00ff00"/>
<rect x="421" y="164" width="3" height="14" fill="#00ff00"/>
<rect x="426" y="176" width="1" height="19" fill="#00ff00"/>
<rect x="425" y="177" width="3" height="3" fill="#00ff00"/>
<rect x="430" y="112" width="1" height="77" fill="#ff0000"/>
<rect x="429" y="131" width="3" height="49" fill="#ff0000"/>
<rect x="434" y="82" width="1" height="51" fill="#ff0000"/>
<rect x="433" y="83" width="3" height="48" fill="#ff0000"/>
<rect x="438" y="82" width="1" height="28" fill="#00ff00"/>
<rect x="437" y="83" width="3" height="16" fill="#00ff00"/>
<rect x="442" y="81" width="1" height="28" fill="#00ff00"/>
<rect x="441" y="92" width="3" height="16" fill="#00ff00"/>
<rect x="446" y="79" width="1" height="29" fill="#ff0000"/>
<rect x="445" y="83" width="3" height="24" fill="#ff0000"/>
<rect x="450" y="55" width="1" height="46" fill="#ff0000"/>
<rect x="449" y="59" width="3" height="25" fill="#ff0000"/>
<rect x="454" y="50" width="1" height="33" fill="#00ff00"/>
<rect x="453" y="60" width="3" height="17" fill="#00ff00"/>
<rect x="458" y="67" width="1" height="15" fill="#ff0000"/>
<rect x="457" y="68" width="3" height="8" fill="#ff0000"/>
<rect x="462" y="67" width="1" height="43" fill="#00ff00"/>
<rect x="461" y="68" width="3" height="40" fill="#00ff00"/>
<rect x="466" y="104" width="1" height="23" fill="#00ff00"/>
<rect x="465" y="107" width="3" height="8" fill="#00ff00"/>
<rect x="470" y="101" width="1" height="23" fill="#ff0000"/>
<rect x="469" y="107" width="3" height="8" fill="#ff0000"/>
<rect x="474" y="96" width="1" height="32" fill="#ff0000"/>
<rect x="473" y="99" width="3" height="9" fill="#ff0000"/>
<rect x="478" y="88" width="1" height="41" fill="#ff0000"/>
<rect x="477" y="89" width="3" height="11" fill="#ff0000"/>
<rect x="482" y="88" width="1" height="31" fill="#00ff00"/>
<rect x="481" y="89" width="3" height="13" fill="#00ff00"/>
<rect x="486" y="97" width="1" height="17" fill="#00ff00"/>
<rect x="485" y="102" width="3" height="5" fill="#00ff00"/>
<rect x="490" y="104" width="1" height="32" fill="#00ff00"/>
<rect x="489" y="105" width="3" height="30" fill="#00ff00"/>
<rect x="494" y="131" width="1" height="37" fill="#00ff00"/>
<rect x="493" y="134" width="3" height="24" fill="#00ff00"/>
<rect x="498" y="126" width="1" height="33" fill="#ff0000"/>
<rect x="497" y="144" width="3" height="14" fill="#ff0000"/>
<rect x="502" y="135" width="1" height="65" fill="#00ff00"/>
<rect x="501" y="145" width="3" height="29" fill="#00ff00"/>
<rect x="506" y="172" width="1" height="55" fill="#00ff00"/>
<rect x="505" y="173" width="3" height="52" fill="#00ff00"/>
<rect x="510" y="210" width="1" height="31" fill="#00ff00"/>
<rect x="509" y="224" width="3" height="11" fill="#00ff00"/>
<rect x="514" y="211" width="1" height="32" fill="#ff0000"/>
<rect x="513" y="215" width="3" height="21" fill="#ff0000"/>
<rect x="518" y="214" width="1" height="41" fill="#00ff00"/>
<rect x="517" y="215" width="3" height="39" fill="#00ff00"/>
<rect x="522" y="221" width="1" height="47" fill="#00ff00"/>
<rect x="521" y="253" width="3" height="8" fill="#00ff00"/>
<rect x="526" y="219" width="1" height="56" fill="#ff0000"/>
<rect x="525" y="220" width="3" height="41" fill="#ff0000"/>
<rect x="530" y="216" width="1" height="29" fill="#00ff00"/>
<rect x="529" y="220" width="3" height="18" fill="#00ff00"/>
<rect x="534" y="220" width="1" height="35" fill="#ff0000"/>
<rect x="533" y="226" width="3" height="12" fill="#ff0000"/>
<rect x="538" y="224" width="1" height="23" fill="#00ff00"/>
<rect x="537" y="226" width="3" height="9" fill="#00ff00"/>
<rect x="542" y="220" width="1" height="23" fill="#ff0000"/>
<rect x="541" y="221" width="3" height="15" fill="#ff0000"/>
<rect x="546" y="210" width="1" height="23" fill="#00ff00"/>
<rect x="545" y="220" width="3" height="3" fill="#00ff00"/>
<rect x="550" y="176" width="1" height="48" fill="#ff0000"/>
<rect x="549" y="182" width="3" height="41" fill="#ff0000"/>
<rect x="554" y="172" width="1" height="38" fill="#ff0000"/>
<rect x="553" y="177" width="3" height="5" fill="#ff0000"/>
<rect x="558" y="164" width="1" height="18" fill="#ff0000"/>
<rect x="557" y="166" width="3" height="12" fill="#ff0000"/>
<rect x="562" y="170" width="1" height="36" fill="#00ff00"/>
<rect x="561" y="175" width="3" height="23" fill="#00ff00"/>
<rect x="566" y="188" width="1" height="22" fill="#ff0000"/>
<rect x="565" y="193" width="3" height="5" fill="#ff0000"/>
<rect x="570" y="177" width="1" height="36" fill="#00ff00"/>
<rect x="569" y="191" width="3" height="16" fill="#00ff00"/>
<rect x="574" y="184" width="1" height="45" fill="#ff0000"/>
<rect x="573" y="190" width="3" height="15" fill="#ff0000"/>
<rect x="578" y="187" width="1" height="14" fill="#ff0000"/>
<rect x="577" y="188" width="3" height="2" fill="#ff0000"/>
<rect x="582" y="180" width="1" height="15" fill="#ff0000"/>
<rect x="581" y="183" width="3" height="7" fill="#ff0000"/>
<rect x="586" y="158" width="1" height="28" fill="#ff0000"/>
<rect x="585" y="165" width="3" height="19" fill="#ff0000"/>
<rect x="590" y="154" width="1" height="16" fill="#00ff00"/>
<rect x="589" y="165" width="3" height="3" fill="#00ff00"/>
<rect x="594" y="136" width="1" height="32" fill="#ff0000"/>
<rect x="593" y="153" width="3" height="14" fill="#ff0000"/>
<rect x="598" y="140" width="1" height="21" fill="#00ff00"/>
<rect x="597" y="153" width="3" height="7" fill="#00ff00"/>
<rect x="602" y="153" width="1" height="21" fill="#00ff00"/>
<rect x="601" y="160" width="3" height="13" fill="#00ff00"/>
<rect x="606" y="146" width="1" height="29" fill="#ff0000"/>
<rect x="605" y="153" width="3" height="20" fill="#ff0000"/>
<rect x="610" y="151" width="1" height="23" fill="#00ff00"/>
<rect x="609" y="153" width="3" height="9" fill="#00ff00"/>
<rect x="614" y="157" width="1" height="18" fill="#ff0000"/>
<rect x="613" y="161" width="3" height="2" fill="#ff0000"/>
<rect x="618" y="159" width="1" height="56" fill="#00ff00"/>
<rect x="617" y="161" width="3" height="53" fill="#00ff00"/>
<rect x="622" y="192" width="1" height="36" fill="#ff0000"/>
<rect x="621" y="198" width="3" height="16" fill="#ff0000"/>
<rect x="626" y="197" width="1" height="25" fill="#00ff00"/>
<rect x="625" y="198" width="3" height="6" fill="#00ff00"/>
<rect x="630" y="193" width="1" height="58" fill="#00ff00"/>
<rect x="629" y="200" width="3" height="35" fill="#00ff00"/>
<rect x="634" y="215" width="1" height="30" fill="#ff0000"/>
<rect x="633" y="219" width="3" height="16" fill="#ff0000"/>
<rect x="638" y="202" width="1" height="19" fill="#ff0000"/>
<rect x="637" y="209" width="3" height="11" fill="#ff0000"/>
<rect x="642" y="191" width="1" height="34" fill="#00ff00"/>
<rect x="641" y="209" width="3" height="5" fill="#00ff00"/>
<rect x="646" y="175" width="1" height="42" fill="#ff0000"/>
<rect x="645" y="182" width="3" height="34" fill="#ff0000"/>
<rect x="650" y="171" width="1" height="13" fill="#ff0000"/>
<rect x="649" y="175" width="3" height="8" fill="#ff0000"/>
<rect x="654" y="173" width="1" height="17" fill="#00ff00"/>
<rect x="653" y="174" width="3" height="9" fill="#00ff00"/>
<rect x="658" y="175" width="1" height="22" fill="#00ff00"/>
<rect x="657" y="180" width="3" height="13" fill="#00ff00"/>
<rect x="662" y="192" width="1" height="13" fill="#00ff00"/>
<rect x="661" y="193" width="3" height="9" fill="#00ff00"/>
<rect x="666" y="187" width="1" height="35" fill="#ff0000"/>
<rect x="665" y="188" width="3" height="15" fill="#ff0000"/>
<rect x="670" y="170" width="1" height="33" fill="#00ff00"/>
<rect x="669" y="188" width="3" height="11" fill="#00ff00"/>
<rect x="674" y="196" width="1" height="35" fill="#00ff00"/>
<rect x="673" y="197" width="3" height="32" fill="#00ff00"/>
<rect x="678" y="224" width="1" height="18" fill="#ff0000"/>
<rect x="677" y="226" width="3" height="3" fill="#ff0000"/>
<rect x="682" y="221" width="1" height="27" fill="#00ff00"/>
<rect x="681" y="232" width="3" height="3" fill="#00ff00"/>
<rect x="686" y="213" width="1" height="27" fill="#ff0000"/>
<rect x="685" y="222" width="3" height="13" fill="#ff0000"/>
<rect x="690" y="213" width="1" height="43" fill="#00ff00"/>
<rect x="689" y="222" width="3" height="13" fill="#00ff00"/>
<rect x="694" y="200" width="1" height="42" fill="#ff0000"/>
<rect x="693" y="208" width="3" height="27" fill="#ff0000"/>
<rect x="698" y="205" width="1" height="14" fill="#00ff00"/>
<rect x="697" y="208" width="3" height="10" fill="#00ff00"/>
<rect x="702" y="197" width="1" height="22" fill="#ff0000"/>
<rect x="701" y="199" width="3" height="16" fill="#ff0000"/>
<rect x="706" y="194" width="1" height="17" fill="#00ff00"/>
<rect x="705" y="198" width="3" height="6" fill="#00ff00"/>
<rect x="710" y="194" width="1" height="13" fill="#ff0000"/>
<rect x="709" y="201" width="3" height="4" fill="#ff0000"/>
<rect x="714" y="177" width="1" height="26" fill="#ff0000"/>
<rect x="713" y="190" width="3" height="12" fill="#ff0000"/>
<rect x="718" y="182" width="1" height="21" fill="#00ff00"/>
<rect x="717" y="190" width="3" height="11" fill="#00ff00"/>
<rect x="722" y="189" width="1" height="34" fill="#00ff00"/>
<rect x="721" y="200" width="3" height="13" fill="#00ff00"/>
<rect x="726" y="196" width="1" height="30" fill="#ff0000"/>
<rect x="725" y="207" width="3" height="11" fill="#ff0000"/>
<rect x="730" y="195" width="1" height="14" fill="#ff0000"/>
<rect x="729" y="198" width="3" height="4" fill="#ff0000"/>
<rect x="734" y="155" width="1" height="45" fill="#ff0000"/>
<rect x="733" y="165" width="3" height="34" fill="#ff0000"/>
<rect x="738" y="164" width="1" height="19" fill="#00ff00"/>
<rect x="737" y="165" width="3" height="9" fill="#00ff00"/>
<rect x="742" y="169" width="1" height="44" fill="#00ff00"/>
<rect x="741" y="173" width="3" height="35" fill="#00ff00"/>
<rect x="746" y="207" width="1" height="21" fill="#00ff00"/>
<rect x="745" y="208" width="3" height="7" fill="#00ff00"/>
<rect x="750" y="206" width="1" height="15" fill="#ff0000"/>
<rect x="749" y="213" width="3" height="2" fill="#ff0000"/>
<rect x="754" y="212" width="1" height="25" fill="#00ff00"/>
<rect x="753" y="213" width="3" height="12" fill="#00ff00"/>
<rect x="758" y="206" width="1" height="23" fill="#ff0000"/>
<rect x="757" y="208" width="3" height="17" fill="#ff0000"/>
<rect x="762" y="200" width="1" height="21" fill="#00ff00"/>
<rect x="761" y="208" width="3" height="7" fill="#00ff00"/>
<rect x="766" y="200" width="1" height="25" fill="#ff0000"/>
<rect x="765" y="217" width="3" height="3" fill="#ff0000"/>
<rect x="770" y="198" width="1" height="26" fill="#00ff00"/>
<rect x="769" y="217" width="3" height="6" fill="#00ff00"/>
<rect x="774" y="209" width="1" height="23" fill="#ff0000"/>
<rect x="773" y="214" width="3" height="9" fill="#ff0000"/>
<rect x="778" y="209" width="1" height="13" fill="#ff0000"/>
<rect x="777" y="212" width="3" height="3" fill="#ff0000"/>
<rect x="782" y="211" width="1" height="24" fill="#00ff00"/>
<rect x="781" y="213" width="3" height="20" fill="#00ff00"/>
<rect x="786" y="224" width="1" height="23" fill="#00ff00"/>
<rect x="785" y="232" width="3" height="8" fill="#00ff00"/>
<rect x="790" y="237" width="1" height="51" fill="#00ff00"/>
<rect x="789" y="240" width="3" height="16" fill="#00ff00"/>
<rect x="794" y="244" width="1" height="20" fill="#00ff00"/>
<rect x="793" y="255" width="3" height="2" fill="#00ff00"/>
<rect x="798" y="244" width="1" height="14" fill="#ff0000"/>
<rect x="797" y="253" width="3" height="4" fill="#ff0000"/>
<rect x="802" y="229" width="1" height="33" fill="#ff0000"/>
<rect x="801" y="230" width="3" height="19" fill="#ff0000"/>
<rect x="806" y="227" width="1" height="13" fill="#00ff00"/>
<rect x="805" y="229" width="3" height="3" fill="#00ff00"/>
<rect x="810" y="218" width="1" height="15" fill="#ff0000"/>
<rect x="809" y="221" width="3" height="11" fill="#ff0000"/>
<rect x="814" y="216" width="1" height="12" fill="#ff0000"/>
<rect x="813" y="217" width="3" height="5" fill="#ff0000"/>
<rect x="818" y="215" width="1" height="9" fill="#00ff00"/>
<rect x="817" y="217" width="3" height="2" fill="#00ff00"/>
<rect x="822" y="214" width="1" height="8" fill="#00ff00"/>
<rect x="821" y="216" width="3" height="4" fill="#00ff00"/>
<rect x="826" y="188" width="1" height="38" fill="#ff0000"/>
<rect x="825" y="191" width="3" height="34" fill="#ff0000"/>
<rect x="830" y="186" width="1" height="35" fill="#00ff00"/>
<rect x="829" y="191" width="3" height="24" fill="#00ff00"/>
<rect x="834" y="186" width="1" height="39" fill="#00ff00"/>
<rect x="833" y="214" width="3" height="4" fill="#00ff00"/>
<rect x="838" y="211" width="1" height="16" fill="#ff0000"/>
<rect x="837" y="213" width="3" height="6" fill="#ff0000"/>
<rect x="842" y="185" width="1" height="29" fill="#ff0000"/>
<rect x="841" y="190" width="3" height="23" fill="#ff0000"/>
<rect x="846" y="189" width="1" height="15" fill="#00ff00"/>
<rect x="845" y="190" width="3" height="11" fill="#00ff00"/>
<rect x="850" y="181" width="1" height="28" fill="#ff0000"/>
<rect x="849" y="191" width="3" height="10" fill="#ff0000"/>
<rect x="854" y="187" width="1" height="27" fill="#00ff00"/>
<rect x="853" y="192" width="3" height="21" fill="#00ff00"/>
<rect x="858" y="212" width="1" height="34" fill="#00ff00"/>
<rect x="857" y="213" width="3" height="23" fill="#00ff00"/>
<rect x="862" y="209" width="1" height="37" fill="#ff0000"/>
<rect x="861" y="215" width="3" height="21" fill="#ff0000"/>
<rect x="866" y="200" width="1" height="18" fill="#ff0000"/>
<rect x="865" y="205" width="3" height="11" fill="#ff0000"/>
<rect x="870" y="200" width="1" height="13" fill="#ff0000"/>
<rect x="869" y="202" width="3" height="4" fill="#ff0000"/>
<rect x="874" y="201" width="1" height="17" fill="#00ff00"/>
<rect x="873" y="202" width="3" height="12" fill="#00ff00"/>
<rect x="878" y="211" width="1" height="18" fill="#00ff00"/>
<rect x="877" y="214" width="3" height="13" fill="#00ff00"/>
<rect x="882" y="223" width="1" height="21" fill="#00ff00"/>
<rect x="881" y="226" width="3" height="2" fill="#00ff00"/>
<rect x="886" y="215" width="1" height="83" fill="#00ff00"/>
<rect x="885" y="216" width="3" height="72" fill="#00ff00"/>
<rect x="890" y="281" width="1" height="39" fill="#00ff00"/>
<rect x="889" y="287" width="3" height="29" fill="#00ff00"/>
<rect x="894" y="307" width="1" height="16" fill="#ff0000"/>
<rect x="893" y="308" width="3" height="8" fill="#ff0000"/>
<rect x="898" y="299" width="1" height="16" fill="#00ff00"/>
<rect x="897" y="308" width="3" height="4" fill="#00ff00"/>
<rect x="902" y="303" width="1" height="13" fill="#00ff00"/>
<rect x="901" y="311" width="3" height="3" fill="#00ff00"/>
<rect x="906" y="294" width="1" height="22" fill="#ff0000"/>
<rect x="905" y="297" width="3" height="18" fill="#ff0000"/>
<rect x="910" y="216" width="1" height="94" fill="#ff0000"/>
<rect x="909" y="221" width="3" height="76" fill="#ff0000"/>
<rect x="914" y="213" width="1" height="18" fill="#ff0000"/>
<rect x="913" y="215" width="3" height="6" fill="#ff0000"/>
<rect x="918" y="212" width="1" height="5" fill="#ff0000"/>
<rect x="917" y="213" width="3" height="3" fill="#ff0000"/>
<rect x="922" y="208" width="1" height="21" fill="#00ff00"/>
<rect x="921" y="218" width="3" height="8" fill="#00ff00"/>
<rect x="926" y="214" width="1" height="14" fill="#ff0000"/>
<rect x="925" y="220" width="3" height="7" fill="#ff0000"/>
<rect x="930" y="201" width="1" height="30" fill="#ff0000"/>
<rect x="929" y="206" width="3" height="15" fill="#ff0000"/>
<rect x="934" y="190" width="1" height="18" fill="#ff0000"/>
<rect x="933" y="197" width="3" height="10" fill="#ff0000"/>
<rect x="938" y="189" width="1" height="10" fill="#ff0000"/>
<rect x="937" y="190" width="3" height="8" fill="#ff0000"/>
<rect x="942" y="189" width="1" height="9" fill="#00ff00"/>
<rect x="941" y="190" width="3" height="6" fill="#00ff00"/>
<rect x="946" y="191" width="1" height="16" fill="#00ff00"/>
<rect x="945" y="196" width="3" height="10" fill="#00ff00"/>
<rect x="950" y="201" width="1" height="17" fill="#00ff00"/>
<rect x="949" y="204" width="3" height="13" fill="#00ff00"/>
<rect x="954" y="202" width="1" height="21" fill="#00ff00"/>
<rect x="953" y="216" width="3" height="6" fill="#00ff00"/>
<rect x="958" y="199" width="1" height="28" fill="#00ff00"/>
<rect x="957" y="219" width="3" height="2" fill="#00ff00"/>
<rect x="962" y="204" width="1" height="22" fill="#ff0000"/>
<rect x="961" y="216" width="3" height="6" fill="#ff0000"/>
<rect x="966" y="213" width="1" height="11" fill="#00ff00"/>
<rect x="965" y="217" width="3" height="1" fill="#00ff00"/>
<rect x="970" y="214" width="1" height="11" fill="#ff0000"/>
<rect x="969" y="216" width="3" height="2" fill="#ff0000"/>
<rect x="974" y="213" width="1" height="13" fill="#00ff00"/>
<rect x="973" y="215" width="3" height="3" fill="#00ff00"/>
<rect x="978" y="203" width="1" height="16" fill="#ff0000"/>
<rect x="977" y="210" width="3" height="8" fill="#ff0000"/>
<rect x="982" y="193" width="1" height="19" fill="#ff0000"/>
<rect x="981" y="203" width="3" height="8" fill="#ff0000"/>
<rect x="986" y="202" width="1" height="33" fill="#00ff00"/>
<rect x="985" y="203" width="3" height="26" fill="#00ff00"/>
<rect x="990" y="223" width="1" height="13" fill="#00ff00"/>
<rect x="989" y="229" width="3" height="3" fill="#00ff00"/>
<rect x="994" y="223" width="1" height="15" fill="#ff0000"/>
<rect x="993" y="226" width="3" height="6" fill="#ff0000"/>
<rect x="998" y="218" width="1" height="15" fill="#ff0000"/>
<rect x="997" y="219" width="3" height="11" fill="#ff0000"/>
<rect x="1002" y="214" width="1" height="19" fill="#ff0000"/>
<rect x="1001" y="218" width="3" height="5" fill="#ff0000"/>
<rect x="1006" y="198" width="1" height="46" fill="#ff0000"/>
<rect x="1005" y="208" width="3" height="11" fill="#ff0000"/>
<rect x="1010" y="191" width="1" height="31" fill="#ff0000"/>
<rect x="1009" y="204" width="3" height="5" fill="#ff0000"/>
<rect x="1014" y="195" width="1" height="14" fill="#ff0000"/>
<rect x="1013" y="203" width="3" height="2" fill="#ff0000"/>
<rect x="1018" y="198" width="1" height="8" fill="#ff0000"/>
<rect x="1017" y="202" width="3" height="2" fill="#ff0000"/>
<rect x="1022" y="199" width="1" height="13" fill="#000000"/>
<rect x="1021" y="204" width="3" height="1" fill="#000000"/>
<rect x="1026" y="190" width="1" height="23" fill="#ff0000"/>
<rect x="1025" y="202" width="3" height="2" fill="#ff0000"/>
<rect x="1030" y="196" width="1" height="54" fill="#00ff00"/>
<rect x="1029" y="202" width="3" height="44" fill="#00ff00"/>
<rect x="1034" y="239" width="1" height="35" fill="#00ff00"/>
<rect x="1033" y="245" width="3" height="22" fill="#00ff00"/>
<rect x="1038" y="257" width="1" height="19" fill="#ff0000"/>
<rect x="1037" y="258" width="3" height="10" fill="#ff0000"/>
<rect x="1042" y="251" width="1" height="19" fill="#00ff00"/>
<rect x="1041" y="253" width="3" height="6" fill="#00ff00"/>
<rect x="1046" y="246" width="1" height="21" fill="#ff0000"/>
<rect x="1045" y="252" width="3" height="8" fill="#ff0000"/>
<rect x="1050" y="236" width="1" height="25" fill="#ff0000"/>
<rect x="1049" y="239" width="3" height="20" fill="#ff0000"/>
<rect x="1054" y="233" width="1" height="17" fill="#00ff00"/>
<rect x="1053" y="239" width="3" height="2" fill="#00ff00"/>
<rect x="1058" y="239" width="1" height="9" fill="#00ff00"/>
<rect x="1057" y="240" width="3" height="4" fill="#00ff00"/>
<rect x="1062" y="242" width="1" height="14" fill="#00ff00"/>
<rect x="1061" y="243" width="3" height="2" fill="#00ff00"/>
<rect x="1066" y="243" width="1" height="25" fill="#00ff00"/>
<rect x="1065" y="244" width="3" height="22" fill="#00ff00"/>
<rect x="1070" y="243" width="1" height="24" fill="#ff0000"/>
<rect x="1069" y="244" width="3" height="22" fill="#ff0000"/>
<rect x="1074" y="243" width="1" height="35" fill="#00ff00"/>
<rect x="1073" y="244" width="3" height="33" fill="#00ff00"/>
<rect x="1078" y="260" width="1" height="19" fill="#ff0000"/>
<rect x="1077" y="268" width="3" height="9" fill="#ff0000"/>
<rect x="1082" y="266" width="1" height="25" fill="#00ff00"/>
<rect x="1081" y="269" width="3" height="20" fill="#00ff00"/>
<rect x="1086" y="277" width="1" height="14" fill="#ff0000"/>
<rect x="1085" y="278" width="3" height="12" fill="#ff0000"/>
<rect x="1090" y="268" width="1" height="13" fill="#ff0000"/>
<rect x="1089" y="271" width="3" height="5" fill="#ff0000"/>
<rect x="1094" y="263" width="1" height="13" fill="#ff0000"/>
<rect x="1093" y="269" width="3" height="4" fill="#ff0000"/>
<rect x="1098" y="252" width="1" height="22" fill="#ff0000"/>
<rect x="1097" y="255" width="3" height="15" fill="#ff0000"/>
<rect x="1102" y="244" width="1" height="17" fill="#00ff00"/>
<rect x="1101" y="255" width="3" height="3" fill="#00ff00"/>
<rect x="1106" y="247" width="1" height="13" fill="#ff0000"/>
<rect x="1105" y="249" width="3" height="9" fill="#ff0000"/>
<rect x="1110" y="246" width="1" height="118" fill="#00ff00"/>
<rect x="1109" y="248" width="3" height="110" fill="#00ff00"/>
<rect x="1114" y="323" width="1" height="53" fill="#ff0000"/>
<rect x="1113" y="336" width="3" height="22" fill="#ff0000"/>
<rect x="1118" y="333" width="1" height="16" fill="#00ff00"/>
<rect x="1117" y="336" width="3" height="4" fill="#00ff00"/>
<rect x="1122" y="337" width="1" height="45" fill="#00ff00"/>
<rect x="1121" y="338" width="3" height="39" fill="#00ff00"/>
<rect x="1126" y="375" width="1" height="39" fill="#00ff00"/>
<rect x="1125" y="376" width="3" height="37" fill="#00ff00"/>
<rect x="1130" y="402" width="1" height="26" fill="#00ff00"/>
<rect x="1129" y="413" width="3" height="10" fill="#00ff00"/>
<rect x="1134" y="422" width="1" height="18" fill="#00ff00"/>
<rect x="1133" y="423" width="3" height="8" fill="#00ff00"/>
<rect x="1138" y="416" width="1" height="17" fill="#ff0000"/>
<rect x="1137" y="423" width="3" height="8" fill="#ff0000"/>
<rect x="1142" y="420" width="1" height="53" fill="#00ff00"/>
<rect x="1141" y="422" width="3" height="17" fill="#00ff00"/>
<rect x="1146" y="428" width="1" height="30" fill="#ff0000"/>
<rect x="1145" y="433" width="3" height="6" fill="#ff0000"/>
<rect x="1150" y="432" width="1" height="62" fill="#00ff00"/>
<rect x="1149" y="433" width="3" height="55" fill="#00ff00"/>
<rect x="1154" y="482" width="1" height="26" fill="#ff0000"/>
<rect x="1153" y="485" width="3" height="2" fill="#ff0000"/>
<rect x="1158" y="471" width="1" height="22" fill="#ff0000"/>
<rect x="1157" y="485" width="3" height="2" fill="#ff0000"/>
<rect x="1162" y="459" width="1" height="27" fill="#ff0000"/>
<rect x="1161" y="470" width="3" height="13" fill="#ff0000"/>
<rect x="1166" y="471" width="1" height="35" fill="#00ff00"/>
<rect x="1165" y="472" width="3" height="18" fill="#00ff00"/>
<rect x="1170" y="465" width="1" height="44" fill="#ff0000"/>
<rect x="1169" y="467" width="3" height="22" fill="#ff0000"/>
<rect x="1174" y="443" width="1" height="35" fill="#ff0000"/>
<rect x="1173" y="455" width="3" height="13" fill="#ff0000"/>
<rect x="1178" y="450" width="1" height="10" fill="#ff0000"/>
<rect x="1177" y="453" width="3" height="3" fill="#ff0000"/>
<rect x="1182" y="433" width="1" height="22" fill="#ff0000"/>
<rect x="1181" y="438" width="3" height="16" fill="#ff0000"/>
<rect x="1186" y="434" width="1" height="26" fill="#00ff00"/>
<rect x="1185" y="438" width="3" height="20" fill="#00ff00"/>
<rect x="1190" y="455" width="1" height="22" fill="#00ff00"/>
<rect x="1189" y="456" width="3" height="20" fill="#00ff00"/>
<rect x="1194" y="459" width="1" height="32" fill="#00ff00"/>
<rect x="1193" y="475" width="3" height="10" fill="#00ff00"/>
<rect x="1198" y="458" width="1" height="27" fill="#ff0000"/>
<rect x="1197" y="476" width="3" height="8" fill="#ff0000"/>
<rect x="1202" y="450" width="1" height="29" fill="#ff0000"/>
<rect x="1201" y="453" width="3" height="24" fill="#ff0000"/>
<rect x="1206" y="412" width="1" height="44" fill="#ff0000"/>
<rect x="1205" y="422" width="3" height="32" fill="#ff0000"/>
<rect x="1210" y="417" width="1" height="26" fill="#00ff00"/>
<rect x="1209" y="422" width="3" height="17" fill="#00ff00"/>
<rect x="1214" y="426" width="1" height="15" fill="#ff0000"/>
<rect x="1213" y="436" width="3" height="3" fill="#ff0000"/>
<rect x="1218" y="403" width="1" height="39" fill="#ff0000"/>
<rect x="1217" y="417" width="3" height="20" fill="#ff0000"/>
<rect x="1222" y="374" width="1" height="45" fill="#ff0000"/>
<rect x="1221" y="375" width="3" height="43" fill="#ff0000"/>
<rect x="1226" y="373" width="1" height="21" fill="#00ff00"/>
<rect x="1225" y="375" width="3" height="12" fill="#00ff00"/>
<rect x="1230" y="385" width="1" height="26" fill="#00ff00"/>
<rect x="1229" y="386" width="3" height="17" fill="#00ff00"/>
<rect x="1234" y="395" width="1" height="14" fill="#ff0000"/>
<rect x="1233" y="399" width="3" height="6" fill="#ff0000"/>
<rect x="1238" y="396" width="1" height="13" fill="#00ff00"/>
<rect x="1237" y="399" width="3" height="9" fill="#00ff00"/>
<rect x="1242" y="388" width="1" height="24" fill="#ff0000"/>
<rect x="1241" y="394" width="3" height="14" fill="#ff0000"/>
<rect x="1246" y="383" width="1" height="20" fill="#ff0000"/>
<rect x="1245" y="384" width="3" height="13" fill="#ff0000"/>
<rect x="1250" y="382" width="1" height="26" fill="#00ff00"/>
<rect x="1249" y="383" width="3" height="21" fill="#00ff00"/>
<rect x="1254" y="385" width="1" height="20" fill="#ff0000"/>
<rect x="1253" y="387" width="3" height="17" fill="#ff0000"/>
<rect x="1258" y="379" width="1" height="17" fill="#ff0000"/>
<rect x="1257" y="385" width="3" height="4" fill="#ff0000"/>
<rect x="1262" y="378" width="1" height="9" fill="#ff0000"/>
<rect x="1261" y="379" width="3" height="6" fill="#ff0000"/>
<rect x="1266" y="370" width="1" height="17" fill="#00ff00"/>
<rect x="1265" y="378" width="3" height="7" fill="#00ff00"/>
<rect x="1270" y="354" width="1" height="35" fill="#ff0000"/>
<rect x="1269" y="361" width="3" height="24" fill="#ff0000"/>
<rect x="1274" y="360" width="1" height="21" fill="#00ff00"/>
<rect x="1273" y="361" width="3" height="16" fill="#00ff00"/>
<rect x="1278" y="377" width="1" height="17" fill="#00ff00"/>
<rect x="1277" y="378" width="3" height="11" fill="#00ff00"/>
</g>
<polyline points="2.5,343.3 6.5,344.0 10.5,344.6 14.5,344.4 18.5,342.0 22.5,339.7 26.5,335.8 30.5,332.2 34.5,328.5 38.5,325.4 42.5,320.7 46.5,316.5 50.5,312.2 54.5,307.7 58.5,303.7 62.5,299.7 66.5,294.6 70.5,290.4 74.5,285.9 78.5,281.8 82.5,277.4 86.5,273.0 90.5,266.9 94.5,261.5 98.5,256.1 102.5,251.2 106.5,244.7 110.5,237.9 114.5,231.7 118.5,225.7 122.5,221.6 126.5,218.9 130.5,216.3 134.5,214.7 138.5,213.6 142.5,212.7 146.5,211.8 150.5,210.8 154.5,209.8 158.5,208.7 162.5,208.8 166.5,209.8 170.5,210.6 174.5,212.5 178.5,212.9 182.5,213.5 186.5,213.9 190.5,213.9 194.5,213.7 198.5,212.7 202.5,211.0 206.5,210.1 210.5,209.9 214.5,208.4 218.5,206.8 222.5,205.1 226.5,204.9 230.5,205.0 234.5,205.2 238.5,205.6 242.5,204.4 246.5,202.6 250.5,201.9 254.5,200.8 258.5,199.8 262.5,198.5 266.5,198.0 270.5,196.6 274.5,194.3 278.5,192.5 282.5,191.3 286.5,189.5 290.5,188.2 294.5,185.7 298.5,183.7 302.5,182.1 306.5,180.8 310.5,180.0 314.5,180.9 318.5,182.8 322.5,185.1 326.5,186.8 330.5,188.5 334.5,190.3 338.5,191.9 342.5,193.4 346.5,195.2 350.5,197.4 354.5,199.5 358.5,201.8 362.5,205.0 366.5,207.0 370.5,207.1 374.5,207.9 378.5,208.8 382.5,209.4 386.5,210.1 390.5,211.8 394.5,214.0 398.5,216.0 402.5,217.1 406.5,217.6 410.5,217.3 414.5,216.8 418.5,216.4 422.5,216.4 426.5,216.2 430.5,213.9 434.5,208.5 438.5,203.2 442.5,198.6 446.5,193.4 450.5,188.0 454.5,184.1 458.5,179.8 462.5,176.9 466.5,173.6 470.5,169.9 474.5,165.0 478.5,159.6 482.5,153.8 486.5,149.0 490.5,146.0 494.5,143.5 498.5,140.4 502.5,138.8 506.5,139.4 510.5,140.2 514.5,140.7 518.5,141.9 522.5,143.7 526.5,144.4 530.5,146.1 534.5,148.1 538.5,150.4 542.5,151.9 546.5,153.3 550.5,155.0 554.5,158.1 558.5,160.4 562.5,163.4 566.5,167.0 570.5,172.0 574.5,175.7 578.5,179.7 582.5,182.2 586.5,183.9 590.5,185.9 594.5,187.7 598.5,190.1 602.5,192.5 606.5,194.0 610.5,194.9 614.5,195.0 618.5,197.3 622.5,198.1 626.5,197.4 630.5,197.4 634.5,197.6 638.5,196.1 642.5,194.5 646.5,193.2 650.5,191.1 654.5,189.7 658.5,188.3 662.5,187.7 666.5,186.5 670.5,187.1 674.5,188.8 678.5,190.8 682.5,192.0 686.5,193.0 690.5,193.9 694.5,194.5 698.5,195.5 702.5,196.1 706.5,197.4 710.5,198.5 714.5,199.7 718.5,201.1 722.5,202.4 726.5,204.2 730.5,205.4 734.5,205.5 738.5,204.2 742.5,204.5 746.5,204.9 750.5,204.2 754.5,204.4 758.5,204.3 762.5,204.4 766.5,205.5 770.5,207.1 774.5,208.2 778.5,208.8 782.5,209.8 786.5,211.6 790.5,213.5 794.5,214.4 798.5,215.3 802.5,215.1 806.5,215.5 810.5,215.0 814.5,215.3 818.5,215.3 822.5,216.0 826.5,215.6 830.5,216.1 834.5,217.0 838.5,217.4 842.5,216.6 846.5,216.4 850.5,216.2 854.5,217.8 858.5,219.9 862.5,220.1 866.5,219.8 870.5,219.4 874.5,219.0 878.5,219.7 882.5,220.1 886.5,222.5 890.5,225.6 894.5,228.7 898.5,232.0 902.5,234.7 906.5,236.6 910.5,235.5 914.5,234.1 918.5,232.7 922.5,232.6 926.5,232.2 930.5,231.7 934.5,231.0 938.5,230.1 942.5,229.3 946.5,229.8 950.5,229.8 954.5,230.0 958.5,230.2 962.5,231.1 966.5,231.7 970.5,232.5 974.5,232.7 978.5,231.8 982.5,231.4 986.5,232.2 990.5,233.2 994.5,233.6 998.5,233.3 1002.5,233.0 1006.5,230.3 1010.5,226.6 1014.5,223.1 1018.5,219.4 1022.5,215.8 1026.5,212.6 1030.5,213.4 1034.5,215.2 1038.5,216.7 1042.5,217.8 1046.5,218.8 1050.5,219.9 1054.5,221.4 1058.5,223.2 1062.5,224.8 1066.5,226.8 1070.5,227.7 1074.5,229.6 1078.5,231.1 1082.5,233.6 1086.5,235.6 1090.5,237.4 1094.5,239.1 1098.5,240.6 1102.5,242.4 1106.5,243.1 1110.5,247.3 1114.5,251.0 1118.5,255.0 1122.5,260.3 1126.5,267.1 1130.5,274.4 1134.5,282.0 1138.5,289.4 1142.5,297.2 1146.5,304.9 1150.5,313.0 1154.5,320.3 1158.5,327.8 1162.5,334.9 1166.5,342.8 1170.5,350.4 1174.5,357.5 1178.5,364.5 1182.5,370.9 1186.5,377.3 1190.5,385.1 1194.5,392.0 1198.5,398.9 1202.5,404.4 1206.5,409.2 1210.5,414.8 1214.5,420.4 1218.5,425.8 1222.5,429.7 1226.5,434.3 1230.5,435.8 1234.5,437.9 1238.5,440.1 1242.5,440.7 1246.5,439.7 1250.5,439.1 1254.5,437.6 1258.5,436.4 1262.5,434.4 1266.5,432.8 1270.5,428.5 1274.5,424.9 1278.5,421.8" fill="none" stroke="#0000cd" stroke-width="1" shape-rendering="crispEdges" stroke-linejoin="round"/>
<polyline points="2.5,353.7 6.5,351.5 10.5,348.8 14.5,344.6 18.5,338.4 22.5,332.8 26.5,323.5 30.5,315.1 34.5,306.3 38.5,298.9 42.5,287.7 46.5,277.5 50.5,266.8 54.5,255.9 58.5,247.6 62.5,239.8 66.5,231.7 70.5,226.9 74.5,223.4 78.5,220.4 82.5,220.5 86.5,219.6 90.5,215.1 94.5,210.9 98.5,210.4 102.5,209.8 106.5,206.4 110.5,202.9 114.5,199.5 118.5,196.7 122.5,197.2 126.5,198.3 130.5,199.5 134.5,200.9 138.5,201.7 142.5,203.4 146.5,205.4 150.5,206.5 154.5,206.9 158.5,207.9 162.5,210.9 166.5,217.4 170.5,221.6 174.5,227.6 178.5,228.9 182.5,228.1 186.5,226.7 190.5,225.0 194.5,223.6 198.5,220.6 202.5,218.9 206.5,218.0 210.5,215.4 214.5,210.2 218.5,206.2 222.5,199.6 226.5,194.3 230.5,186.9 234.5,183.1 238.5,179.9 242.5,176.7 246.5,174.2 250.5,174.4 254.5,175.4 258.5,177.6 262.5,178.6 266.5,180.1 270.5,181.4 274.5,180.2 278.5,180.9 282.5,181.8 286.5,184.1 290.5,185.1 294.5,184.9 298.5,184.6 302.5,184.0 306.5,181.4 310.5,180.4 314.5,183.1 318.5,187.0 322.5,191.2 326.5,196.9 330.5,202.9 334.5,205.6 338.5,207.4 342.5,208.0 346.5,209.3 350.5,212.0 354.5,216.9 358.5,222.1 362.5,228.6 366.5,232.1 370.5,230.6 374.5,229.0 378.5,228.3 382.5,227.1 386.5,226.3 390.5,227.4 394.5,227.5 398.5,229.2 402.5,228.6 406.5,227.3 410.5,223.3 414.5,217.0 418.5,209.1 422.5,204.0 426.5,200.8 430.5,193.4 434.5,182.4 438.5,173.7 442.5,166.5 446.5,157.4 450.5,147.4 454.5,137.4 458.5,127.4 462.5,120.9 466.5,115.6 470.5,111.5 474.5,106.8 478.5,100.4 482.5,94.9 486.5,93.1 490.5,96.9 494.5,101.1 498.5,103.6 502.5,110.1 506.5,122.0 510.5,133.3 514.5,143.8 518.5,154.2 522.5,164.6 526.5,172.7 530.5,182.6 534.5,192.4 538.5,201.9 542.5,210.1 546.5,216.4 550.5,218.1 554.5,220.4 558.5,219.9 562.5,217.9 566.5,214.9 570.5,214.4 574.5,209.8 578.5,204.6 582.5,201.9 586.5,196.7 590.5,192.6 594.5,186.7 598.5,182.4 602.5,178.8 606.5,176.7 610.5,175.6 614.5,175.3 618.5,176.4 622.5,176.8 626.5,176.6 630.5,179.8 634.5,182.0 638.5,183.9 642.5,187.4 646.5,188.4 650.5,189.9 654.5,191.6 658.5,193.0 662.5,196.5 666.5,198.4 670.5,201.1 674.5,202.1 678.5,204.1 682.5,206.4 686.5,205.4 690.5,206.6 694.5,206.5 698.5,206.8 702.5,208.0 706.5,210.1 710.5,211.4 714.5,211.1 718.5,211.1 722.5,212.9 726.5,213.4 730.5,211.2 734.5,206.9 738.5,202.5 742.5,201.5 746.5,200.1 750.5,200.4 754.5,200.9 758.5,201.6 762.5,202.4 766.5,203.5 770.5,205.9 774.5,206.8 778.5,206.7 782.5,208.6 786.5,211.6 790.5,218.1 794.5,224.0 798.5,227.2 802.5,228.3 806.5,229.6 810.5,229.4 814.5,230.0 818.5,230.3 822.5,230.5 826.5,228.2 830.5,228.3 834.5,228.7 838.5,227.3 842.5,223.7 846.5,219.8 850.5,215.1 854.5,212.2 858.5,212.6 862.5,211.4 866.5,210.3 870.5,209.2 874.5,208.9 878.5,209.4 882.5,212.0 886.5,217.2 890.5,224.2 894.5,231.0 898.5,239.7 902.5,247.8 906.5,255.4 910.5,255.9 914.5,254.4 918.5,254.3 922.5,255.8 926.5,257.1 930.5,256.5 934.5,254.4 938.5,251.6 942.5,245.1 946.5,237.2 950.5,230.7 954.5,224.3 958.5,217.6 962.5,211.9 966.5,211.6 970.5,211.7 974.5,212.1 978.5,210.9 982.5,209.7 986.5,211.4 990.5,213.9 994.5,216.4 998.5,218.1 1002.5,218.9 1006.5,218.3 1010.5,217.0 1014.5,215.7 1018.5,214.7 1022.5,213.7 1026.5,212.7 1030.5,214.7 1034.5,218.8 1038.5,222.7 1042.5,224.9 1046.5,226.3 1050.5,227.2 1054.5,228.8 1058.5,230.6 1062.5,233.3 1066.5,237.7 1070.5,240.6 1074.5,246.0 1078.5,250.6 1082.5,256.8 1086.5,259.1 1090.5,259.4 1094.5,260.1 1098.5,259.9 1102.5,260.3 1106.5,261.0 1110.5,269.4 1114.5,275.9 1118.5,282.7 1122.5,290.6 1126.5,302.7 1130.5,313.1 1134.5,324.8 1138.5,334.4 1142.5,345.9 1146.5,357.4 1150.5,373.1 1154.5,389.5 1158.5,405.7 1162.5,421.5 1166.5,430.9 1170.5,440.3 1174.5,448.5 1178.5,453.9 1182.5,455.7 1186.5,458.2 1190.5,461.4 1194.5,465.9 1198.5,468.5 1202.5,469.9 1206.5,465.2 1210.5,461.9 1214.5,458.4 1218.5,454.6 1222.5,446.4 1226.5,440.7 1230.5,437.0 1234.5,433.1 1238.5,431.0 1242.5,426.4 1246.5,419.9 1250.5,414.1 1254.5,407.7 1258.5,402.9 1262.5,399.8 1266.5,395.9 1270.5,390.6 1274.5,387.7 1278.5,388.8" fill="none" stroke="#ff0000" stroke-width="1" shape-rendering="crispEdges" stroke-linejoin="round"/>
<polyline points="2.5,353.6 6.5,345.2 10.5,339.4 14.5,325.6 18.5,310.0 22.5,295.8 26.5,277.4 30.5,258.8 34.5,247.2 38.5,241.4 42.5,228.6 46.5,224.8 50.5,221.4 54.5,214.2 58.5,209.8 62.5,211.0 66.5,211.2 70.5,213.6 74.5,219.0 78.5,219.8 82.5,223.4 86.5,224.8 90.5,214.4 94.5,206.4 98.5,200.6 102.5,194.8 106.5,184.6 110.5,179.8 114.5,177.8 118.5,172.6 122.5,176.0 126.5,190.8 130.5,209.6 134.5,223.8 138.5,237.4 142.5,242.2 146.5,234.4 150.5,226.0 154.5,217.4 158.5,212.0 162.5,205.4 166.5,213.2 170.5,220.0 174.5,230.4 178.5,235.0 182.5,239.0 186.5,235.8 190.5,233.4 194.5,226.2 198.5,218.8 202.5,208.8 206.5,201.6 210.5,190.4 214.5,174.6 218.5,165.0 222.5,159.0 226.5,153.6 230.5,150.6 234.5,159.0 238.5,165.4 242.5,171.8 246.5,177.2 250.5,191.2 254.5,197.2 258.5,202.4 262.5,207.0 266.5,206.8 270.5,194.2 274.5,178.6 278.5,168.2 282.5,162.4 286.5,161.8 290.5,169.6 294.5,178.6 298.5,182.4 302.5,183.4 306.5,183.8 310.5,184.0 314.5,197.2 318.5,213.6 322.5,227.0 326.5,237.4 330.5,241.6 334.5,231.2 338.5,219.4 342.5,208.8 346.5,204.4 350.5,204.0 354.5,214.0 358.5,224.8 362.5,241.4 366.5,248.0 370.5,249.4 374.5,247.6 378.5,244.2 382.5,233.2 386.5,225.2 390.5,222.2 394.5,215.2 398.5,211.4 402.5,208.8 406.5,206.8 410.5,202.4 414.5,195.4 418.5,185.0 422.5,179.0 426.5,175.2 430.5,163.8 434.5,147.4 438.5,134.2 442.5,120.2 446.5,100.8 450.5,86.4 454.5,85.2 458.5,79.0 462.5,79.0 466.5,85.4 470.5,95.0 474.5,99.4 478.5,103.6 482.5,102.4 486.5,100.8 490.5,106.4 494.5,118.2 498.5,129.2 502.5,143.6 506.5,167.2 510.5,187.2 514.5,198.6 518.5,220.6 522.5,238.0 526.5,237.0 530.5,237.6 534.5,239.8 538.5,236.0 542.5,228.0 546.5,228.6 550.5,217.4 554.5,207.6 558.5,193.8 562.5,189.2 566.5,183.2 570.5,188.2 574.5,190.8 578.5,195.2 582.5,192.2 586.5,186.6 590.5,178.8 594.5,171.4 598.5,165.8 602.5,163.8 606.5,161.4 610.5,160.2 614.5,161.8 618.5,172.6 622.5,177.6 626.5,187.8 630.5,202.4 634.5,214.0 638.5,213.0 642.5,216.2 646.5,211.8 650.5,199.8 654.5,192.6 658.5,189.4 662.5,187.0 666.5,188.2 670.5,193.0 674.5,202.2 678.5,208.8 682.5,215.4 686.5,222.2 690.5,229.4 694.5,225.2 698.5,223.6 702.5,216.4 706.5,212.8 710.5,206.0 714.5,202.4 718.5,199.0 722.5,201.8 726.5,202.4 730.5,201.8 734.5,196.8 738.5,191.4 742.5,190.4 746.5,192.0 750.5,195.0 754.5,207.0 758.5,213.8 762.5,215.2 766.5,215.6 770.5,217.6 774.5,215.4 778.5,216.2 782.5,219.8 786.5,224.4 790.5,231.0 794.5,239.6 798.5,247.8 802.5,247.2 806.5,245.6 810.5,238.6 814.5,230.6 818.5,223.8 822.5,221.8 826.5,213.6 830.5,212.4 834.5,212.6 838.5,211.4 842.5,205.4 846.5,207.4 850.5,202.6 854.5,201.6 858.5,206.2 862.5,211.2 866.5,212.0 870.5,214.2 874.5,214.4 878.5,212.6 882.5,215.2 886.5,231.8 890.5,254.6 894.5,273.4 898.5,290.4 902.5,307.6 906.5,309.4 910.5,290.4 914.5,271.8 918.5,252.0 922.5,234.4 926.5,219.0 930.5,216.0 934.5,212.4 938.5,207.8 942.5,201.8 946.5,199.0 950.5,201.2 954.5,206.2 958.5,212.4 962.5,216.4 966.5,218.8 970.5,218.6 974.5,217.8 978.5,215.6 982.5,213.0 986.5,215.2 990.5,218.4 994.5,220.0 998.5,221.8 1002.5,224.8 1006.5,220.6 1010.5,215.0 1014.5,210.4 1018.5,207.0 1022.5,204.2 1026.5,203.0 1030.5,211.4 1034.5,224.2 1038.5,235.4 1042.5,246.4 1046.5,256.4 1050.5,255.0 1054.5,249.8 1058.5,247.0 1062.5,244.2 1066.5,247.0 1070.5,248.0 1074.5,255.2 1078.5,260.0 1082.5,268.8 1086.5,271.2 1090.5,276.6 1094.5,275.0 1098.5,272.4 1102.5,266.2 1106.5,260.4 1110.5,277.8 1114.5,291.2 1118.5,308.2 1122.5,332.0 1126.5,364.8 1130.5,377.8 1134.5,396.8 1138.5,413.4 1142.5,425.8 1146.5,429.8 1150.5,442.8 1154.5,453.6 1158.5,466.0 1162.5,472.2 1166.5,483.6 1170.5,479.4 1174.5,473.4 1178.5,467.0 1182.5,460.6 1186.5,454.2 1190.5,456.0 1194.5,462.0 1198.5,466.6 1202.5,469.6 1206.5,462.4 1210.5,455.0 1214.5,445.2 1218.5,433.4 1222.5,417.8 1226.5,410.8 1230.5,403.6 1234.5,396.2 1238.5,394.4 1242.5,398.2 1246.5,397.6 1250.5,397.8 1254.5,395.4 1258.5,390.8 1262.5,387.8 1266.5,388.0 1270.5,379.4 1274.5,377.5 1278.5,378.4" fill="none" stroke="#ffa500" stroke-width="1" shape-rendering="crispEdges" stroke-linejoin="round"/>
<g shape-rendering="crispEdges">
<line x1="2" y1="551.5" x2="1610" y2="551.5" stroke="#c0c0c0" stroke-width="1" stroke-dasharray="3 3"/>
<line x1="2" y1="587.5" x2="1610" y2="587.5" stroke="#c0c0c0" stroke-width="1" stroke-dasharray="3 3"/>
</g>
<polyline points="2.5,566.4 6.5,561.5 10.5,562.4 14.5,556.0 18.5,552.8 22.5,552.0 26.5,546.4 30.5,547.1 34.5,548.9 38.5,552.5 42.5,547.0 46.5,548.4 50.5,549.8 54.5,547.9 58.5,555.9 62.5,553.9 66.5,553.7 70.5,558.6 74.5,558.9 78.5,559.3 82.5,560.0 86.5,557.2 90.5,549.4 94.5,553.9 98.5,557.8 102.5,558.4 106.5,552.4 110.5,550.0 114.5,558.2 118.5,557.5 122.5,568.5 126.5,572.9 130.5,573.5 134.5,574.2 138.5,572.5 142.5,572.7 146.5,563.7 150.5,563.7 154.5,564.5 158.5,566.9 162.5,565.7 166.5,573.6 170.5,572.3 174.5,576.8 178.5,571.5 182.5,569.6 186.5,568.6 190.5,568.3 194.5,567.5 198.5,562.2 202.5,557.8 206.5,560.9 210.5,556.8 214.5,552.5 218.5,555.6 222.5,555.1 226.5,559.3 230.5,557.5 234.5,566.4 238.5,566.4 242.5,565.6 246.5,567.9 250.5,576.1 254.5,573.6 258.5,572.5 262.5,570.8 266.5,566.5 270.5,560.2 274.5,555.9 278.5,562.0 282.5,566.2 286.5,568.6 290.5,571.7 294.5,567.5 298.5,566.7 302.5,567.4 306.5,569.2 310.5,572.5 314.5,581.6 318.5,583.4 322.5,580.0 326.5,577.8 330.5,573.0 334.5,567.1 338.5,568.3 342.5,566.9 346.5,572.2 350.5,572.6 354.5,577.9 358.5,579.5 362.5,583.3 366.5,576.0 370.5,570.6 374.5,572.5 378.5,572.7 382.5,569.2 386.5,566.6 390.5,566.8 394.5,564.5 398.5,568.9 402.5,566.8 406.5,564.6 410.5,562.2 414.5,557.6 418.5,557.6 422.5,561.7 426.5,562.3 430.5,553.1 434.5,547.2 438.5,551.7 442.5,554.2 446.5,551.0 450.5,548.3 454.5,553.2 458.5,552.1 462.5,561.6 466.5,563.1 470.5,561.8 474.5,560.5 478.5,558.8 482.5,562.1 486.5,563.3 490.5,569.7 494.5,574.2 498.5,571.1 502.5,576.4 506.5,583.4 510.5,584.6 514.5,580.0 518.5,584.6 522.5,585.4 526.5,576.8 530.5,579.1 534.5,576.8 538.5,578.0 542.5,575.2 546.5,575.5 550.5,567.7 554.5,566.9 558.5,565.0 562.5,570.9 566.5,570.0 570.5,572.5 574.5,569.1 578.5,568.7 582.5,567.7 586.5,564.2 590.5,564.9 594.5,561.9 598.5,563.8 602.5,567.0 606.5,562.8 610.5,565.1 614.5,564.9 618.5,576.4 622.5,572.7 626.5,573.9 630.5,579.3 634.5,575.4 638.5,573.1 642.5,574.1 646.5,567.1 650.5,565.7 654.5,567.6 658.5,569.8 662.5,571.8 666.5,568.4 670.5,571.0 674.5,577.0 678.5,576.2 682.5,578.0 686.5,574.4 690.5,577.0 694.5,570.1 698.5,572.3 702.5,567.9 706.5,569.0 710.5,568.3 714.5,565.6 718.5,568.6 722.5,571.6 726.5,569.9 730.5,567.5 734.5,560.0 738.5,562.6 742.5,571.0 746.5,572.6 750.5,572.0 754.5,574.7 758.5,570.2 762.5,571.9 766.5,572.4 770.5,573.9 774.5,571.1 778.5,570.5 782.5,576.1 786.5,577.8 790.5,581.3 794.5,581.5 798.5,579.9 802.5,571.8 806.5,572.4 810.5,568.8 814.5,567.6 818.5,568.3 822.5,568.6 826.5,559.8 830.5,567.9 834.5,568.8 838.5,567.3 842.5,561.0 846.5,564.7 850.5,562.1 854.5,568.9 858.5,574.7 862.5,569.0 866.5,566.6 870.5,565.8 874.5,569.2 878.5,572.5 882.5,572.8 886.5,584.5 890.5,588.2 894.5,585.8 898.5,586.4 902.5,586.7 906.5,581.2 910.5,564.3 914.5,563.3 918.5,563.0 922.5,565.9 926.5,564.7 930.5,562.1 934.5,560.4 938.5,559.1 942.5,560.9 946.5,563.7 950.5,566.7 954.5,568.0 958.5,567.7 962.5,566.4 966.5,567.0 970.5,566.4 974.5,567.1 978.5,564.5 982.5,562.3 986.5,571.5 990.5,572.4 994.5,570.3 998.5,567.8 1002.5,567.5 1006.5,564.0 1010.5,562.6 1014.5,562.3 1018.5,561.9 1022.5,563.0 1026.5,562.1 1030.5,579.5 1034.5,584.5 1038.5,580.7 1042.5,580.9 1046.5,577.9 1050.5,572.7 1054.5,573.3 1058.5,574.3 1062.5,574.7 1066.5,581.2 1070.5,572.2 1074.5,580.7 1078.5,577.5 1082.5,582.0 1086.5,578.2 1090.5,575.9 1094.5,575.2 1098.5,570.6 1102.5,571.5 1106.5,568.6 1110.5,588.8 1114.5,583.1 1118.5,583.6 1122.5,588.0 1126.5,591.4 1130.5,592.3 1134.5,593.0 1138.5,590.7 1142.5,592.2 1146.5,590.5 1150.5,595.3 1154.5,594.4 1158.5,594.4 1162.5,589.9 1166.5,591.9 1170.5,585.5 1174.5,582.4 1178.5,581.8 1182.5,577.9 1186.5,581.1 1190.5,583.7 1194.5,585.0 1198.5,582.4 1202.5,576.3 1206.5,569.5 1210.5,572.7 1214.5,572.0 1218.5,568.0 1222.5,560.6 1226.5,563.2 1230.5,566.6 1234.5,565.8 1238.5,567.8 1242.5,565.0 1246.5,563.1 1250.5,567.7 1254.5,564.4 1258.5,564.0 1262.5,562.8 1266.5,564.4 1270.5,559.6 1274.5,564.0 1278.5,567.0" fill="none" stroke="#1e90ff" stroke-width="1" shape-rendering="crispEdges" stroke-linejoin="round"/>
<polyline points="2.5,656.6 6.5,656.2 10.5,655.7 14.5,654.8 18.5,653.5 22.5,651.8 26.5,649.6 30.5,646.9 34.5,644.0 38.5,641.2 42.5,638.2 46.5,635.2 50.5,632.5 54.5,630.0 58.5,628.0 62.5,626.6 66.5,625.7 70.5,625.2 74.5,625.0 78.5,625.3 82.5,626.0 86.5,626.9 90.5,627.7 94.5,628.4 98.5,629.1 102.5,629.9 106.5,630.3 110.5,630.3 114.5,630.2 118.5,630.0 122.5,630.1 126.5,630.9 130.5,632.3 134.5,633.9 138.5,635.7 142.5,637.9 146.5,640.2 150.5,642.3 154.5,644.3 158.5,646.0 162.5,647.1 166.5,648.1 170.5,648.8 174.5,649.5 178.5,650.1 182.5,650.8 186.5,651.6 190.5,652.3 194.5,653.0 198.5,653.4 202.5,653.3 206.5,652.9 210.5,651.9 214.5,650.4 218.5,648.7 222.5,646.9 226.5,645.1 230.5,643.2 234.5,641.8 238.5,640.8 242.5,640.2 246.5,640.0 250.5,640.6 254.5,641.6 258.5,643.0 262.5,644.6 266.5,646.2 270.5,647.3 274.5,647.9 278.5,648.3 282.5,648.5 286.5,648.5 290.5,648.4 294.5,648.2 298.5,647.9 302.5,647.6 306.5,647.7 310.5,648.3 314.5,649.5 318.5,651.1 322.5,652.9 326.5,654.5 330.5,656.1 334.5,657.4 338.5,658.5 342.5,659.4 346.5,660.2 350.5,660.5 354.5,660.6 358.5,660.6 362.5,660.8 366.5,661.1 370.5,661.4 374.5,661.9 378.5,662.5 382.5,662.9 386.5,663.0 390.5,662.7 394.5,662.1 398.5,661.0 402.5,659.8 406.5,658.6 410.5,657.2 414.5,655.6 418.5,653.9 422.5,652.3 426.5,650.8 430.5,649.2 434.5,647.0 438.5,644.5 442.5,642.0 446.5,639.4 450.5,636.7 454.5,634.1 458.5,631.5 462.5,629.2 466.5,627.5 470.5,626.7 474.5,626.4 478.5,626.3 482.5,626.6 486.5,627.6 490.5,629.1 494.5,631.2 498.5,633.3 502.5,635.7 506.5,638.6 510.5,642.1 514.5,645.9 518.5,650.1 522.5,654.5 526.5,658.6 530.5,662.3 534.5,665.7 538.5,668.6 542.5,670.7 546.5,672.1 550.5,672.7 554.5,672.4 558.5,671.3 562.5,670.1 566.5,668.6 570.5,667.1 574.5,665.4 578.5,663.8 582.5,662.0 586.5,660.5 590.5,659.1 594.5,657.9 598.5,656.6 602.5,655.4 606.5,654.0 610.5,652.8 614.5,651.6 618.5,650.9 622.5,650.6 626.5,650.7 630.5,651.4 634.5,652.4 638.5,653.5 642.5,654.8 646.5,655.9 650.5,656.9 654.5,657.4 658.5,657.7 662.5,657.8 666.5,657.6 670.5,657.2 674.5,657.0 678.5,656.9 682.5,657.1 686.5,657.6 690.5,658.4 694.5,659.0 698.5,659.5 702.5,660.0 706.5,660.3 710.5,660.2 714.5,659.9 718.5,659.2 722.5,658.6 726.5,657.9 730.5,657.2 734.5,656.2 738.5,655.2 742.5,654.5 746.5,654.0 750.5,653.7 754.5,653.7 758.5,653.7 762.5,653.7 766.5,653.9 770.5,654.4 774.5,655.1 778.5,655.7 782.5,656.2 786.5,656.8 790.5,657.4 794.5,658.3 798.5,659.1 802.5,659.9 806.5,660.4 810.5,660.8 814.5,661.1 818.5,661.1 822.5,660.9 826.5,660.2 830.5,659.2 834.5,658.1 838.5,657.1 842.5,656.0 846.5,654.9 850.5,653.9 854.5,653.0 858.5,652.4 862.5,652.2 866.5,651.9 870.5,651.6 874.5,651.4 878.5,651.6 882.5,651.9 886.5,652.9 890.5,654.4 894.5,656.1 898.5,658.1 902.5,660.5 906.5,662.9 910.5,664.7 914.5,666.0 918.5,666.7 922.5,666.6 926.5,665.8 930.5,664.2 934.5,662.0 938.5,659.3 942.5,656.3 946.5,653.9 950.5,652.0 954.5,650.5 958.5,649.4 962.5,648.5 966.5,648.0 970.5,647.8 974.5,647.9 978.5,648.2 982.5,648.4 986.5,648.7 990.5,649.1 994.5,649.5 998.5,649.9 1002.5,650.2 1006.5,650.4 1010.5,650.6 1014.5,650.6 1018.5,650.7 1022.5,650.6 1026.5,650.4 1030.5,650.4 1034.5,650.7 1038.5,651.4 1042.5,652.3 1046.5,653.3 1050.5,654.4 1054.5,655.5 1058.5,656.7 1062.5,657.9 1066.5,658.9 1070.5,659.5 1074.5,660.0 1078.5,660.4 1082.5,660.9 1086.5,661.5 1090.5,662.1 1094.5,662.6 1098.5,663.0 1102.5,663.2 1106.5,663.2 1110.5,663.7 1114.5,664.5 1118.5,665.3 1122.5,666.6 1126.5,668.5 1130.5,670.9 1134.5,673.9 1138.5,677.2 1142.5,680.9 1146.5,684.0 1150.5,687.2 1154.5,690.4 1158.5,693.3 1162.5,695.5 1166.5,697.2 1170.5,698.4 1174.5,699.0 1178.5,699.0 1182.5,698.6 1186.5,697.5 1190.5,696.1 1194.5,694.5 1198.5,692.8 1202.5,690.8 1206.5,688.5 1210.5,686.1 1214.5,683.8 1218.5,681.5 1222.5,678.7 1226.5,675.6 1230.5,672.4 1234.5,669.0 1238.5,665.9 1242.5,663.1 1246.5,660.4 1250.5,658.0 1254.5,655.8 1258.5,654.2 1262.5,652.8 1266.5,651.6 1270.5,650.4 1274.5,649.2 1278.5,648.3" fill="none" stroke="#ff0000" stroke-width="1" stroke-dasharray="3 3" shape-rendering="crispEdges" stroke-linejoin="round"/>
<g shape-rendering="crispEdges">
<rect x="1611" y="56" width="2" height="1" fill="#000"/>
<rect x="1611" y="89" width="2" height="1" fill="#000"/>
<rect x="1611" y="122" width="2" height="1" fill="#000"/>
<rect x="1611" y="155" width="2" height="1" fill="#000"/>
<rect x="1611" y="188" width="2" height="1" fill="#000"/>
<rect x="1611" y="221" width="2" height="1" fill="#000"/>
<rect x="1611" y="254" width="2" height="1" fill="#000"/>
<rect x="1611" y="287" width="2" height="1" fill="#000"/>
<rect x="1611" y="320" width="2" height="1" fill="#000"/>
<rect x="1611" y="353" width="2" height="1" fill="#000"/>
<rect x="1611" y="386" width="2" height="1" fill="#000"/>
<rect x="1611" y="419" width="2" height="1" fill="#000"/>
<rect x="1611" y="452" width="2" height="1" fill="#000"/>
<rect x="1611" y="485" width="2" height="1" fill="#000"/>
<rect x="1611" y="518" width="2" height="1" fill="#000"/>
<rect x="1611" y="653" width="2" height="1" fill="#000"/>
<rect x="2" y="707" width="1" height="3" fill="#000"/>
<rect x="66" y="707" width="1" height="3" fill="#000"/>
<rect x="130" y="707" width="1" height="3" fill="#000"/>
<rect x="194" y="707" width="1" height="3" fill="#000"/>
<rect x="258" y="707" width="1" height="3" fill="#000"/>
<rect x="322" y="707" width="1" height="3" fill="#000"/>
<rect x="386" y="707" width="1" height="3" fill="#000"/>
<rect x="450" y="707" width="1" height="3" fill="#000"/>
<rect x="514" y="707" width="1" height="3" fill="#000"/>
<rect x="578" y="707" width="1" height="3" fill="#000"/>
<rect x="642" y="707" width="1" height="3" fill="#000"/>
<rect x="706" y="707" width="1" height="3" fill="#000"/>
<rect x="770" y="707" width="1" height="3" fill="#000"/>
<rect x="834" y="707" width="1" height="3" fill="#000"/>
<rect x="898" y="707" width="1" height="3" fill="#000"/>
<rect x="962" y="707" width="1" height="3" fill="#000"/>
<rect x="1026" y="707" width="1" height="3" fill="#000"/>
<rect x="1090" y="707" width="1" height="3" fill="#000"/>
<rect x="1154" y="707" width="1" height="3" fill="#000"/>
<rect x="1218" y="707" width="1" height="3" fill="#000"/>
</g>
<text x="1615.7" y="60" fill="#000" stroke="#000" stroke-width="0.22" font-family="Liberation Sans, Arial, sans-serif" font-size="9.7" textLength="32.6" lengthAdjust="spacingAndGlyphs">0.78840</text>
<text x="1615.7" y="93" fill="#000" stroke="#000" stroke-width="0.22" font-family="Liberation Sans, Arial, sans-serif" font-size="9.7" textLength="32.6" lengthAdjust="spacingAndGlyphs">0.78545</text>
<text x="1615.7" y="126" fill="#000" stroke="#000" stroke-width="0.22" font-family="Liberation Sans, Arial, sans-serif" font-size="9.7" textLength="32.6" lengthAdjust="spacingAndGlyphs">0.78250</text>
<text x="1615.7" y="159" fill="#000" stroke="#000" stroke-width="0.22" font-family="Liberation Sans, Arial, sans-serif" font-size="9.7" textLength="32.6" lengthAdjust="spacingAndGlyphs">0.77950</text>
<text x="1615.7" y="192" fill="#000" stroke="#000" stroke-width="0.22" font-family="Liberation Sans, Arial, sans-serif" font-size="9.7" textLength="32.6" lengthAdjust="spacingAndGlyphs">0.77655</text>
<text x="1615.7" y="225" fill="#000" stroke="#000" stroke-width="0.22" font-family="Liberation Sans, Arial, sans-serif" font-size="9.7" textLength="32.6" lengthAdjust="spacingAndGlyphs">0.77355</text>
<text x="1615.7" y="258" fill="#000" stroke="#000" stroke-width="0.22" font-family="Liberation Sans, Arial, sans-serif" font-size="9.7" textLength="32.6" lengthAdjust="spacingAndGlyphs">0.77060</text>
<text x="1615.7" y="291" fill="#000" stroke="#000" stroke-width="0.22" font-family="Liberation Sans, Arial, sans-serif" font-size="9.7" textLength="32.6" lengthAdjust="spacingAndGlyphs">0.76760</text>
<text x="1615.7" y="324" fill="#000" stroke="#000" stroke-width="0.22" font-family="Liberation Sans, Arial, sans-serif" font-size="9.7" textLength="32.6" lengthAdjust="spacingAndGlyphs">0.76465</text>
<text x="1615.7" y="357" fill="#000" stroke="#000" stroke-width="0.22" font-family="Liberation Sans, Arial, sans-serif" font-size="9.7" textLength="32.6" lengthAdjust="spacingAndGlyphs">0.76165</text>
<text x="1615.7" y="390" fill="#000" stroke="#000" stroke-width="0.22" font-family="Liberation Sans, Arial, sans-serif" font-size="9.7" textLength="32.6" lengthAdjust="spacingAndGlyphs">0.75870</text>
<text x="1615.7" y="423" fill="#000" stroke="#000" stroke-width="0.22" font-family="Liberation Sans, Arial, sans-serif" font-size="9.7" textLength="32.6" lengthAdjust="spacingAndGlyphs">0.75570</text>
<text x="1615.7" y="456" fill="#000" stroke="#000" stroke-width="0.22" font-family="Liberation Sans, Arial, sans-serif" font-size="9.7" textLength="32.6" lengthAdjust="spacingAndGlyphs">0.75275</text>
<text x="1615.7" y="489" fill="#000" stroke="#000" stroke-width="0.22" font-family="Liberation Sans, Arial, sans-serif" font-size="9.7" textLength="32.6" lengthAdjust="spacingAndGlyphs">0.74980</text>
<text x="1615.7" y="522" fill="#000" stroke="#000" stroke-width="0.22" font-family="Liberation Sans, Arial, sans-serif" font-size="9.7" textLength="32.6" lengthAdjust="spacingAndGlyphs">0.74680</text>
<rect x="1612" y="30" width="38" height="11" fill="#ff0000" shape-rendering="crispEdges"/><text x="1615.7" y="39" fill="#fff" stroke="#fff" stroke-width="0.22" font-family="Liberation Sans, Arial, sans-serif" font-size="9.7" textLength="32.6" lengthAdjust="spacingAndGlyphs">0.79023</text>
<rect x="1612" y="140" width="38" height="11" fill="#ff0000" shape-rendering="crispEdges"/><text x="1615.7" y="149" fill="#fff" stroke="#fff" stroke-width="0.22" font-family="Liberation Sans, Arial, sans-serif" font-size="9.7" textLength="32.6" lengthAdjust="spacingAndGlyphs">0.78032</text>
<rect x="1612" y="278" width="38" height="11" fill="#00ff00" shape-rendering="crispEdges"/><text x="1615.7" y="287" fill="#fff" stroke="#fff" stroke-width="0.22" font-family="Liberation Sans, Arial, sans-serif" font-size="9.7" textLength="32.6" lengthAdjust="spacingAndGlyphs">0.76794</text>
<rect x="1612" y="384" width="38" height="11" fill="#000000" shape-rendering="crispEdges"/><text x="1615.7" y="393" fill="#fff" stroke="#fff" stroke-width="0.22" font-family="Liberation Sans, Arial, sans-serif" font-size="9.7" textLength="32.6" lengthAdjust="spacingAndGlyphs">0.75848</text>
<rect x="1612" y="410" width="38" height="11" fill="#0000ff" shape-rendering="crispEdges"/><text x="1615.7" y="419" fill="#fff" stroke="#fff" stroke-width="0.22" font-family="Liberation Sans, Arial, sans-serif" font-size="9.7" textLength="32.6" lengthAdjust="spacingAndGlyphs">0.75603</text>
<text transform="translate(1613.8,534) scale(0.92,1)" fill="#000" stroke="#000" stroke-width="0.22" font-family="Liberation Sans, Arial, sans-serif" font-size="9.7" >100</text>
<text transform="translate(1613.8,555) scale(0.92,1)" fill="#000" stroke="#000" stroke-width="0.22" font-family="Liberation Sans, Arial, sans-serif" font-size="9.7" >70</text>
<text transform="translate(1613.8,590.6) scale(0.92,1)" fill="#000" stroke="#000" stroke-width="0.22" font-family="Liberation Sans, Arial, sans-serif" font-size="9.7" >30</text>
<text transform="translate(1613.8,611) scale(0.92,1)" fill="#000" stroke="#000" stroke-width="0.22" font-family="Liberation Sans, Arial, sans-serif" font-size="9.7" >0</text>
<text transform="translate(1613.8,627) scale(0.92,1)" fill="#000" stroke="#000" stroke-width="0.22" font-family="Liberation Sans, Arial, sans-serif" font-size="9.7" >0.003808</text>
<text transform="translate(1613.8,657) scale(0.92,1)" fill="#000" stroke="#000" stroke-width="0.22" font-family="Liberation Sans, Arial, sans-serif" font-size="9.7" >0.00</text>
<text transform="translate(1613.8,703.5) scale(0.92,1)" fill="#000" stroke="#000" stroke-width="0.22" font-family="Liberation Sans, Arial, sans-serif" font-size="9.7" >-0.005754</text>
<text transform="translate(6,535.6) scale(0.96,1)" fill="#000" stroke="#000" stroke-width="0.22" font-family="Liberation Sans, Arial, sans-serif" font-size="9.7" >RSI(14) 52.5600</text>
<text transform="translate(6,629) scale(0.96,1)" fill="#000" stroke="#000" stroke-width="0.22" font-family="Liberation Sans, Arial, sans-serif" font-size="9.7" >MACD(12,26,9) 0.000817 0.000545</text>
<text transform="translate(1.6,719) scale(0.96,1)" fill="#000" stroke="#000" stroke-width="0.22" font-family="Liberation Sans, Arial, sans-serif" font-size="9.7" >13 Apr 2021</text>
<text transform="translate(65.6,719) scale(0.96,1)" fill="#000" stroke="#000" stroke-width="0.22" font-family="Liberation Sans, Arial, sans-serif" font-size="9.7" >16 Apr 14:00</text>
<text transform="translate(129.6,719) scale(0.96,1)" fill="#000" stroke="#000" stroke-width="0.22" font-family="Liberation Sans, Arial, sans-serif" font-size="9.7" >21 Apr 04:00</text>
<text transform="translate(193.6,719) scale(0.96,1)" fill="#000" stroke="#000" stroke-width="0.22" font-family="Liberation Sans, Arial, sans-serif" font-size="9.7" >23 Apr 22:00</text>
<text transform="translate(257.6,719) scale(0.96,1)" fill="#000" stroke="#000" stroke-width="0.22" font-family="Liberation Sans, Arial, sans-serif" font-size="9.7" >28 Apr 14:00</text>
<text transform="translate(321.6,719) scale(0.96,1)" fill="#000" stroke="#000" stroke-width="0.22" font-family="Liberation Sans, Arial, sans-serif" font-size="9.7" >3 May 07:00</text>
<text transform="translate(385.6,719) scale(0.96,1)" fill="#000" stroke="#000" stroke-width="0.22" font-family="Liberation Sans, Arial, sans-serif" font-size="9.7" >5 May 22:00</text>
<text transform="translate(449.6,719) scale(0.96,1)" fill="#000" stroke="#000" stroke-width="0.22" font-family="Liberation Sans, Arial, sans-serif" font-size="9.7" >10 May 15:00</text>
<text transform="translate(513.6,719) scale(0.96,1)" fill="#000" stroke="#000" stroke-width="0.22" font-family="Liberation Sans, Arial, sans-serif" font-size="9.7" >13 May 04:00</text>
<text transform="translate(577.6,719) scale(0.96,1)" fill="#000" stroke="#000" stroke-width="0.22" font-family="Liberation Sans, Arial, sans-serif" font-size="9.7" >17 May 23:00</text>
<text transform="translate(641.6,719) scale(0.96,1)" fill="#000" stroke="#000" stroke-width="0.22" font-family="Liberation Sans, Arial, sans-serif" font-size="9.7" >20 May 14:00</text>
<text transform="translate(705.6,719) scale(0.96,1)" fill="#000" stroke="#000" stroke-width="0.22" font-family="Liberation Sans, Arial, sans-serif" font-size="9.7" >25 May 04:00</text>
<text transform="translate(769.6,719) scale(0.96,1)" fill="#000" stroke="#000" stroke-width="0.22" font-family="Liberation Sans, Arial, sans-serif" font-size="9.7" >27 May 22:00</text>
<text transform="translate(833.6,719) scale(0.96,1)" fill="#000" stroke="#000" stroke-width="0.22" font-family="Liberation Sans, Arial, sans-serif" font-size="9.7" >1 Jun 14:00</text>
<text transform="translate(897.6,719) scale(0.96,1)" fill="#000" stroke="#000" stroke-width="0.22" font-family="Liberation Sans, Arial, sans-serif" font-size="9.7" >4 Jun 04:00</text>
<text transform="translate(961.6,719) scale(0.96,1)" fill="#000" stroke="#000" stroke-width="0.22" font-family="Liberation Sans, Arial, sans-serif" font-size="9.7" >8 Jun 22:00</text>
<text transform="translate(1025.6,719) scale(0.96,1)" fill="#000" stroke="#000" stroke-width="0.22" font-family="Liberation Sans, Arial, sans-serif" font-size="9.7" >11 Jun 14:00</text>
<text transform="translate(1089.6,719) scale(0.96,1)" fill="#000" stroke="#000" stroke-width="0.22" font-family="Liberation Sans, Arial, sans-serif" font-size="9.7" >16 Jun 04:00</text>
<text transform="translate(1153.6,719) scale(0.96,1)" fill="#000" stroke="#000" stroke-width="0.22" font-family="Liberation Sans, Arial, sans-serif" font-size="9.7" >18 Jun 22:00</text>
<text transform="translate(1217.6,719) scale(0.96,1)" fill="#000" stroke="#000" stroke-width="0.22" font-family="Liberation Sans, Arial, sans-serif" font-size="9.7" >23 Jun 14:00</text>
<polygon points="1282,26 1292,26 1287,31" fill="#c0c0c0"/>
</svg>
<div id="tb"></div><div id="tbl1"></div><div id="tbl2"></div><div id="tbl3"></div>
<svg width="330" height="21" viewBox="0 0 330 21" style="position:absolute;left:0;top:0">
<g shape-rendering="crispEdges">
<rect x="0.5" y="3.5" width="10" height="12" fill="none" stroke="#555" stroke-dasharray="1 1"/>
<rect x="1" y="6" width="8" height="1.4" fill="#555"/><rect x="4.3" y="6" width="1.5" height="8" fill="#555"/>
<rect x="58" y="0" width="1" height="21" fill="#a0a0a0"/><rect x="59" y="0" width="1" height="21" fill="#fff"/>
<rect x="319" y="0" width="1" height="21" fill="#a0a0a0"/><rect x="320" y="0" width="1" height="21" fill="#fff"/>
<rect x="209" y="0" width="25" height="20" fill="#f8f8f8"/><rect x="208" y="0" width="1" height="20" fill="#a0a0a0"/>
</g>
<g fill="#a0a0a0" shape-rendering="crispEdges">
<rect x="62" y="1" width="3" height="1"/><rect x="62" y="3" width="3" height="1"/><rect x="62" y="5" width="3" height="1"/><rect x="62" y="7" width="3" height="1"/><rect x="62" y="9" width="3" height="1"/><rect x="62" y="11" width="3" height="1"/><rect x="62" y="13" width="3" height="1"/><rect x="62" y="15" width="3" height="1"/><rect x="62" y="17" width="3" height="1"/>
</g>
<polygon points="26,7 29.5,3 33,7" fill="#555"/>
<polygon points="33,12 36.5,16 40,12" fill="#555"/>
<polyline points="28,9.5 30.5,12 35,7" fill="none" stroke="#555" stroke-width="1.9"/>
<polygon points="47,8 53,8 50,11.5" fill="#000"/>
</svg>
<span class="tf" style="left:74px">M1</span>
<span class="tf" style="left:101px">M5</span>
<span class="tf" style="left:127px">M15</span>
<span class="tf" style="left:155px">M30</span>
<span class="tf" style="left:186px">H1</span>
<span class="tf" style="left:214px">H4</span>
<span class="tf" style="left:242px">D1</span>
<span class="tf" style="left:270px">W1</span>
<span class="tf" style="left:296px">MN</span>
<div id="tabl0"></div>
<div id="tabs"></div><div id="tabl1"></div><div id="tabl2"></div>
<div id="act"></div>
<span class="tab" style="left:13px">USDCHF,H4</span><div class="sep" style="left:91px"></div>
<span class="tab" style="left:101px">USDCNH,Daily</span><div class="sep" style="left:195px"></div>
<span class="tab" style="left:207px">EURUSD,H4</span>
<span class="tab" style="left:298px;color:#000">AUDUSD,H4</span>
<span class="tab" style="left:390px">USDCAD,H4</span><div class="sep" style="left:471px"></div>
<span class="tab" style="left:481px">XAUUSD,H1</span><div class="sep" style="left:563px"></div>
<span class="tab" style="left:573px">USOil,H1</span><div class="sep" style="left:635px"></div>
<svg width="40" height="20" viewBox="0 0 40 20" style="position:absolute;left:1610px;top:730px">
<polygon points="16,8 20,5 20,11" fill="#8c8c8c"/><polygon points="34,5 38,8 34,11" fill="#8c8c8c"/>
</svg>
</body></html>
